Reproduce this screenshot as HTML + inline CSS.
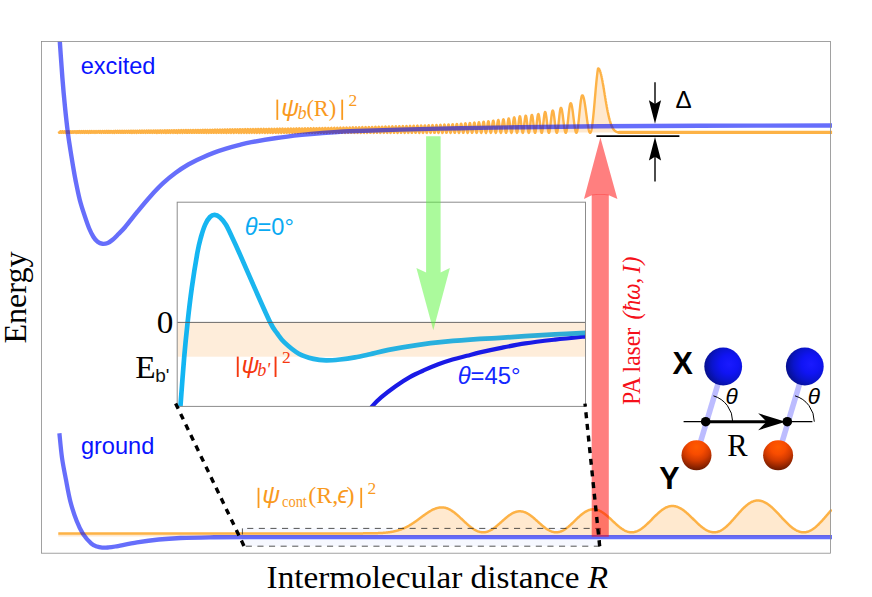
<!DOCTYPE html>
<html><head><meta charset="utf-8"><title>fig</title>
<style>html,body{margin:0;padding:0;background:#fff}svg{display:block}</style></head>
<body>
<svg width="872" height="597" viewBox="0 0 872 597">
<defs>
<clipPath id="cf"><rect x="41.5" y="41.5" width="790.6" height="511.7"/></clipPath>
<clipPath id="cfill"><rect x="41.5" y="41.5" width="789.2" height="511.7"/></clipPath>
<clipPath id="ci"><rect x="177.2" y="202.2" width="408.3" height="204.2"/></clipPath>
<linearGradient id="gcy" gradientUnits="userSpaceOnUse" x1="177" y1="0" x2="586" y2="0">
<stop offset="0" stop-color="#00b0f2"/><stop offset="0.3" stop-color="#0fb0ea"/><stop offset="1" stop-color="#22a6d2"/></linearGradient>
<radialGradient id="gb" cx="0.66" cy="0.44" r="0.82" fx="0.66" fy="0.44">
<stop offset="0" stop-color="#1a1aff"/><stop offset="0.3" stop-color="#1014f4"/><stop offset="0.55" stop-color="#0a14cc"/><stop offset="0.8" stop-color="#061090"/><stop offset="1" stop-color="#030a58"/></radialGradient>
<radialGradient id="go" cx="0.5" cy="0.22" r="0.84" fx="0.5" fy="0.22">
<stop offset="0" stop-color="#ff5a00"/><stop offset="0.3" stop-color="#f84c00"/><stop offset="0.55" stop-color="#d23a00"/><stop offset="0.8" stop-color="#902400"/><stop offset="1" stop-color="#561400"/></radialGradient>
</defs>
<rect width="872" height="597" fill="#fff"/>
<g clip-path="url(#cf)">
<rect x="242.4" y="528.4" width="358" height="17.8" fill="#f6f8ff"/>
<path d="M58.6,131.33 58.8,131.71 59.0,132.22 59.2,132.67 59.4,132.89 59.6,132.81 59.8,132.46 60.0,131.95 60.2,131.48 60.4,131.22 60.6,131.26 60.8,131.58 61.0,132.07 61.2,132.56 61.4,132.86 61.6,132.86 61.8,132.57 62.0,132.09 62.2,131.59 62.4,131.25 62.6,131.20 62.8,131.45 63.0,131.91 63.2,132.42 63.4,132.79 63.6,132.89 63.8,132.69 64.0,132.24 64.2,131.73 64.4,131.32 64.6,131.17 64.8,131.33 65.0,131.75 65.2,132.26 65.4,132.70 65.6,132.90 65.8,132.78 66.0,132.40 66.2,131.88 66.4,131.42 66.6,131.17 66.8,131.23 67.0,131.58 67.2,132.08 67.4,132.57 67.6,132.86 67.8,132.86 68.0,132.55 68.2,132.06 68.4,131.55 68.6,131.21 68.8,131.16 69.0,131.42 69.2,131.89 69.4,132.41 69.6,132.79 69.8,132.90 70.0,132.69 70.2,132.25 70.4,131.72 70.6,131.30 70.8,131.13 71.0,131.28 71.2,131.69 71.4,132.21 71.6,132.67 71.8,132.89 72.0,132.81 72.2,132.44 72.4,131.92 72.6,131.43 72.8,131.15 73.0,131.17 73.2,131.49 73.4,131.99 73.6,132.50 73.8,132.83 74.0,132.88 74.2,132.61 74.4,132.13 74.6,131.61 74.8,131.22 75.0,131.11 75.2,131.31 75.4,131.76 75.6,132.29 75.8,132.72 76.0,132.90 76.2,132.76 76.4,132.35 76.6,131.82 76.8,131.35 77.0,131.10 77.2,131.17 77.4,131.52 77.6,132.04 77.8,132.55 78.0,132.86 78.2,132.86 78.4,132.56 78.6,132.06 78.8,131.54 79.0,131.17 79.2,131.08 79.4,131.32 79.6,131.78 79.8,132.32 80.0,132.74 80.2,132.90 80.4,132.74 80.6,132.31 80.8,131.77 81.0,131.30 81.2,131.07 81.4,131.15 81.6,131.52 81.8,132.05 82.0,132.56 82.2,132.86 82.4,132.86 82.6,132.55 82.8,132.04 83.0,131.51 83.2,131.14 83.4,131.05 83.6,131.29 83.8,131.76 84.0,132.30 84.2,132.73 84.4,132.90 84.6,132.74 84.8,132.32 85.0,131.77 85.2,131.29 85.4,131.04 85.6,131.11 85.8,131.47 86.0,132.01 86.2,132.52 86.4,132.85 86.6,132.87 86.8,132.58 87.0,132.07 87.2,131.53 87.4,131.13 87.6,131.02 87.8,131.23 88.0,131.69 88.2,132.24 88.4,132.69 88.6,132.90 88.8,132.78 89.0,132.37 89.2,131.83 89.4,131.32 89.6,131.03 89.8,131.05 90.0,131.38 90.2,131.90 90.4,132.44 90.6,132.81 90.8,132.89 91.0,132.64 91.2,132.16 91.4,131.60 91.6,131.16 91.8,130.98 92.0,131.13 92.2,131.56 92.4,132.12 92.6,132.61 92.8,132.88 93.0,132.83 93.2,132.47 93.4,131.94 93.6,131.40 93.8,131.04 94.0,130.99 94.2,131.25 94.4,131.75 94.6,132.31 94.8,132.74 95.0,132.90 95.2,132.73 95.4,132.29 95.6,131.73 95.8,131.23 96.0,130.97 96.2,131.03 96.4,131.39 96.6,131.93 96.8,132.47 97.0,132.83 97.2,132.88 97.4,132.61 97.6,132.10 97.8,131.54 98.0,131.10 98.2,130.93 98.4,131.10 98.6,131.54 98.8,132.10 99.0,132.61 99.2,132.88 99.4,132.83 99.6,132.47 99.8,131.92 100.0,131.37 100.2,131.00 100.4,130.93 100.6,131.19 100.8,131.69 101.0,132.26 101.2,132.71 101.4,132.90 101.6,132.75 101.8,132.32 102.0,131.75 102.2,131.23 102.4,130.93 102.6,130.95 102.8,131.29 103.0,131.83 103.2,132.39 103.4,132.79 103.6,132.89 103.8,132.66 104.0,132.18 104.2,131.60 104.4,131.11 104.6,130.89 104.8,130.99 105.0,131.40 105.2,131.96 105.4,132.50 105.6,132.84 105.8,132.87 106.0,132.57 106.2,132.04 106.4,131.46 106.6,131.02 106.8,130.86 107.0,131.04 107.2,131.50 107.4,132.08 107.6,132.60 107.8,132.88 108.0,132.83 108.2,132.47 108.4,131.91 108.6,131.35 108.8,130.95 109.0,130.86 109.2,131.10 109.4,131.59 109.6,132.18 109.8,132.67 110.0,132.89 110.2,132.79 110.4,132.38 110.6,131.80 110.8,131.25 111.0,130.89 111.2,130.86 111.4,131.15 111.6,131.67 111.8,132.26 112.0,132.72 112.2,132.90 112.4,132.74 112.6,132.29 112.8,131.70 113.0,131.16 113.2,130.85 113.4,130.86 113.6,131.20 113.8,131.75 114.0,132.33 114.2,132.76 114.4,132.90 114.6,132.70 114.8,132.22 115.0,131.62 115.2,131.09 115.4,130.81 115.6,130.87 115.8,131.23 116.0,131.80 116.2,132.38 116.4,132.79 116.6,132.89 116.8,132.66 117.0,132.16 117.2,131.55 117.4,131.04 117.6,130.78 117.8,130.87 118.0,131.26 118.2,131.84 118.4,132.42 118.6,132.81 118.8,132.89 119.0,132.63 119.2,132.11 119.4,131.50 119.6,131.00 119.8,130.76 120.0,130.86 120.2,131.28 120.4,131.86 120.6,132.44 120.8,132.82 121.0,132.88 121.2,132.60 121.4,132.08 121.6,131.46 121.8,130.97 122.0,130.74 122.2,130.86 122.4,131.28 122.6,131.87 122.8,132.45 123.0,132.82 123.2,132.88 123.4,132.59 123.6,132.06 123.8,131.44 124.0,130.94 124.2,130.72 124.4,130.84 124.6,131.26 124.8,131.86 125.0,132.44 125.2,132.82 125.4,132.88 125.6,132.60 125.8,132.06 126.0,131.44 126.2,130.93 126.4,130.70 126.6,130.81 126.8,131.23 127.0,131.83 127.2,132.42 127.4,132.81 127.6,132.88 127.8,132.61 128.0,132.08 128.2,131.45 128.4,130.93 128.6,130.68 128.8,130.78 129.0,131.19 129.2,131.79 129.4,132.39 129.6,132.80 129.8,132.89 130.0,132.64 130.2,132.11 130.4,131.48 130.6,130.95 130.8,130.67 131.0,130.74 131.2,131.13 131.4,131.72 131.6,132.33 131.8,132.77 132.0,132.90 132.2,132.67 132.4,132.16 132.6,131.53 132.8,130.97 133.0,130.66 133.2,130.69 133.4,131.06 133.6,131.64 133.8,132.26 134.0,132.73 134.2,132.90 134.4,132.71 134.6,132.23 134.8,131.60 135.0,131.02 135.2,130.66 135.4,130.65 135.6,130.97 135.8,131.54 136.0,132.17 136.2,132.68 136.4,132.90 136.6,132.76 136.8,132.32 137.0,131.69 137.2,131.08 137.4,130.68 137.6,130.60 137.8,130.88 138.0,131.42 138.2,132.06 138.4,132.60 138.6,132.88 138.8,132.81 139.0,132.41 139.2,131.80 139.4,131.17 139.6,130.71 139.8,130.57 140.0,130.78 140.2,131.28 140.4,131.92 140.6,132.50 140.8,132.85 141.0,132.86 141.2,132.52 141.4,131.93 141.6,131.29 141.8,130.77 142.0,130.55 142.2,130.68 142.4,131.13 142.6,131.76 142.8,132.38 143.0,132.80 143.2,132.89 143.4,132.62 143.6,132.08 143.8,131.43 144.0,130.86 144.2,130.55 144.4,130.59 144.6,130.97 144.8,131.57 145.0,132.22 145.2,132.71 145.4,132.90 145.6,132.73 145.8,132.25 146.0,131.60 146.2,130.98 146.4,130.58 146.6,130.52 146.8,130.81 147.0,131.37 147.2,132.03 147.4,132.59 147.6,132.88 147.8,132.82 148.0,132.41 148.2,131.79 148.4,131.14 148.6,130.65 148.8,130.47 149.0,130.66 149.2,131.15 149.4,131.80 149.6,132.42 149.8,132.82 150.0,132.88 150.2,132.58 150.4,132.01 150.6,131.34 150.8,130.77 151.0,130.47 151.2,130.53 151.4,130.93 151.6,131.55 151.8,132.21 152.0,132.71 152.2,132.90 152.4,132.72 152.6,132.23 152.8,131.57 153.0,130.94 153.2,130.52 153.4,130.44 153.6,130.72 153.8,131.28 154.0,131.96 154.2,132.54 154.4,132.87 154.6,132.84 154.8,132.45 155.0,131.83 155.2,131.16 155.4,130.63 155.6,130.40 155.8,130.54 156.0,131.01 156.2,131.66 156.4,132.31 156.6,132.77 156.8,132.90 157.0,132.65 157.2,132.11 157.4,131.43 157.6,130.81 157.8,130.43 158.0,130.41 158.2,130.74 158.4,131.34 158.6,132.02 158.8,132.59 159.0,132.88 159.2,132.81 159.4,132.38 159.6,131.74 159.8,131.06 160.0,130.55 160.2,130.35 160.4,130.52 160.6,131.01 160.8,131.68 161.0,132.34 161.2,132.78 161.4,132.89 161.6,132.63 161.8,132.07 162.0,131.38 162.2,130.75 162.4,130.38 162.6,130.36 162.8,130.70 163.0,131.31 163.2,132.00 163.4,132.58 163.6,132.88 163.8,132.81 164.0,132.39 164.2,131.74 164.4,131.05 164.6,130.51 164.8,130.29 165.0,130.45 165.2,130.93 165.4,131.61 165.6,132.28 165.8,132.76 166.0,132.90 166.2,132.66 166.4,132.11 166.6,131.41 166.8,130.76 167.0,130.35 167.2,130.29 167.4,130.59 167.6,131.19 167.8,131.89 168.0,132.51 168.2,132.86 168.4,132.84 168.6,132.46 168.8,131.83 169.0,131.12 169.2,130.54 169.4,130.25 169.6,130.34 169.8,130.78 170.0,131.44 170.2,132.14 170.4,132.68 170.6,132.90 170.8,132.74 171.0,132.24 171.2,131.55 171.4,130.86 171.6,130.37 171.8,130.21 172.0,130.43 172.2,130.97 172.4,131.68 172.6,132.35 172.8,132.79 173.0,132.89 173.2,132.60 173.4,132.02 173.6,131.30 173.8,130.64 174.0,130.24 174.2,130.21 174.4,130.55 174.6,131.17 174.8,131.89 175.0,132.51 175.2,132.86 175.4,132.84 175.6,132.45 175.8,131.79 176.0,131.07 176.2,130.47 176.4,130.16 176.6,130.24 176.8,130.68 177.0,131.35 177.2,132.07 177.4,132.64 177.6,132.89 177.8,132.76 178.0,132.29 178.2,131.59 178.4,130.87 178.6,130.33 178.8,130.12 179.0,130.29 179.2,130.81 179.4,131.51 179.6,132.22 179.8,132.73 180.0,132.90 180.2,132.68 180.4,132.13 180.6,131.40 180.8,130.70 181.0,130.22 181.2,130.09 181.4,130.35 181.6,130.92 181.8,131.65 182.0,132.34 182.2,132.79 182.4,132.89 182.6,132.59 182.8,131.99 183.0,131.25 183.2,130.57 183.4,130.14 183.6,130.08 183.8,130.40 184.0,131.02 184.2,131.77 184.4,132.43 184.6,132.83 184.8,132.86 185.0,132.51 185.2,131.87 185.4,131.11 185.6,130.46 185.8,130.07 186.0,130.07 186.2,130.45 186.4,131.10 186.6,131.85 186.8,132.50 187.0,132.86 187.2,132.84 187.4,132.44 187.6,131.77 187.8,131.01 188.0,130.37 188.2,130.02 188.4,130.06 188.6,130.48 188.8,131.15 189.0,131.91 189.2,132.54 189.4,132.87 189.6,132.82 189.8,132.39 190.0,131.69 190.2,130.93 190.4,130.30 190.6,129.98 190.8,130.04 191.0,130.48 191.2,131.18 191.4,131.94 191.6,132.56 191.8,132.88 192.0,132.80 192.2,132.35 192.4,131.65 192.6,130.88 192.8,130.25 193.0,129.94 193.2,130.02 193.4,130.47 193.6,131.18 193.8,131.94 194.0,132.57 194.2,132.88 194.4,132.80 194.6,132.34 194.8,131.63 195.0,130.86 195.2,130.22 195.4,129.90 195.6,129.98 195.8,130.43 196.0,131.14 196.2,131.92 196.4,132.55 196.6,132.88 196.8,132.81 197.0,132.36 197.2,131.64 197.4,130.86 197.6,130.21 197.8,129.87 198.0,129.93 198.2,130.37 198.4,131.08 198.6,131.86 198.8,132.52 199.0,132.87 199.2,132.82 199.4,132.39 199.6,131.69 199.8,130.90 200.0,130.23 200.2,129.85 200.4,129.88 200.6,130.29 200.8,130.98 201.0,131.77 201.2,132.46 201.4,132.85 201.6,132.85 201.8,132.45 202.0,131.76 202.2,130.96 202.4,130.26 202.6,129.84 202.8,129.81 203.0,130.18 203.2,130.85 203.4,131.65 203.6,132.37 203.8,132.81 204.0,132.87 204.2,132.53 204.4,131.87 204.6,131.07 204.8,130.33 205.0,129.85 205.2,129.75 205.4,130.06 205.6,130.70 205.8,131.49 206.0,132.24 206.2,132.76 206.4,132.89 206.6,132.62 206.8,132.01 207.0,131.21 207.2,130.43 207.4,129.88 207.6,129.70 207.8,129.93 208.0,130.51 208.2,131.30 208.4,132.08 208.6,132.67 208.8,132.90 209.0,132.72 209.2,132.16 209.4,131.39 209.6,130.58 209.8,129.95 210.0,129.66 210.2,129.79 210.4,130.30 210.6,131.06 210.8,131.87 211.0,132.54 211.2,132.88 211.4,132.81 211.6,132.34 211.8,131.60 212.0,130.77 212.2,130.07 212.4,129.67 212.6,129.67 212.8,130.08 213.0,130.79 213.2,131.62 213.4,132.35 213.6,132.81 213.8,132.87 214.0,132.52 214.2,131.84 214.4,131.01 214.6,130.24 214.8,129.72 215.0,129.58 215.2,129.86 215.4,130.49 215.6,131.31 215.8,132.11 216.0,132.69 216.2,132.90 216.4,132.69 216.6,132.11 216.8,131.30 217.0,130.47 217.2,129.83 217.4,129.54 217.6,129.67 217.8,130.18 218.0,130.96 218.2,131.80 218.4,132.49 218.6,132.87 218.8,132.82 219.0,132.37 219.2,131.63 219.4,130.78 219.6,130.03 219.8,129.57 220.0,129.52 220.2,129.88 220.4,130.58 220.6,131.42 220.8,132.21 221.0,132.75 221.2,132.89 221.4,132.62 221.6,131.98 221.8,131.14 222.0,130.31 222.2,129.69 222.4,129.44 222.6,129.62 222.8,130.18 223.0,130.99 223.2,131.84 223.4,132.53 223.6,132.88 223.8,132.80 224.0,132.32 224.2,131.55 224.4,130.69 224.6,129.93 224.8,129.47 225.0,129.43 225.2,129.81 225.4,130.52 225.6,131.38 225.8,132.19 226.0,132.74 226.2,132.90 226.4,132.62 226.6,131.98 226.8,131.14 227.0,130.28 227.2,129.64 227.4,129.36 227.6,129.51 227.8,130.05 228.0,130.86 228.2,131.73 228.4,132.46 228.6,132.86 228.8,132.83 229.0,132.39 229.2,131.63 229.4,130.75 229.6,129.95 229.8,129.43 230.0,129.31 230.2,129.63 230.4,130.31 230.6,131.17 230.8,132.02 231.0,132.65 231.2,132.90 231.4,132.71 231.6,132.13 231.8,131.30 232.0,130.41 232.2,129.68 232.4,129.29 232.6,129.33 232.8,129.79 233.0,130.56 233.2,131.45 233.4,132.26 233.6,132.78 233.8,132.89 234.0,132.56 234.2,131.87 234.4,130.99 234.6,130.12 234.8,129.47 235.0,129.20 235.2,129.38 235.4,129.95 235.6,130.79 235.8,131.69 236.0,132.43 236.2,132.85 236.4,132.84 236.6,132.39 236.8,131.63 237.0,130.72 237.2,129.88 237.4,129.31 237.6,129.16 237.8,129.44 238.0,130.10 238.2,130.98 238.4,131.87 238.6,132.56 238.8,132.89 239.0,132.77 239.2,132.24 239.4,131.41 239.6,130.49 239.8,129.69 240.0,129.19 240.2,129.13 240.4,129.50 240.6,130.23 240.8,131.14 241.0,132.01 241.2,132.65 241.4,132.90 241.6,132.70 241.8,132.10 242.0,131.24 242.2,130.32 242.4,129.56 242.6,129.12 242.8,129.13 243.0,129.57 243.2,130.34 243.4,131.25 243.6,132.11 243.8,132.71 244.0,132.90 244.2,132.64 244.4,132.00 244.6,131.12 244.8,130.20 245.0,129.46 245.2,129.08 245.4,129.13 245.6,129.61 245.8,130.40 246.0,131.33 246.2,132.17 246.4,132.74 246.6,132.90 246.8,132.61 247.0,131.94 247.2,131.04 247.4,130.13 247.6,129.40 247.8,129.04 248.0,129.11 248.2,129.61 248.4,130.42 248.6,131.35 248.8,132.19 249.0,132.75 249.2,132.89 249.4,132.59 249.6,131.92 249.8,131.02 250.0,130.10 250.2,129.37 250.4,129.01 250.6,129.08 250.8,129.58 251.0,130.39 251.2,131.32 251.4,132.17 251.6,132.74 251.8,132.89 252.0,132.61 252.2,131.94 252.4,131.04 252.6,130.11 252.8,129.37 253.0,128.99 253.2,129.04 253.4,129.52 253.6,130.31 253.8,131.25 254.0,132.11 254.2,132.71 254.4,132.90 254.6,132.64 254.8,132.00 255.0,131.11 255.2,130.18 255.4,129.41 255.6,128.98 255.8,128.98 256.0,129.42 256.2,130.19 256.4,131.12 256.6,132.01 256.8,132.65 257.0,132.90 257.2,132.70 257.4,132.10 257.6,131.24 257.8,130.29 258.0,129.48 258.2,128.99 258.4,128.92 258.6,129.29 258.8,130.02 259.0,130.94 259.2,131.85 259.4,132.55 259.6,132.89 259.8,132.77 260.0,132.24 260.2,131.41 260.4,130.46 260.6,129.60 260.8,129.03 261.0,128.86 261.2,129.14 261.4,129.81 261.6,130.70 261.8,131.64 262.0,132.41 262.2,132.84 262.4,132.84 262.6,132.41 262.8,131.63 263.0,130.69 263.2,129.78 263.4,129.11 263.6,128.83 263.8,128.99 264.0,129.56 264.2,130.42 264.4,131.37 264.6,132.21 264.8,132.76 265.0,132.89 265.2,132.58 265.4,131.89 265.6,130.98 265.8,130.03 266.0,129.26 266.2,128.84 266.4,128.86 266.6,129.30 266.8,130.08 267.0,131.03 267.2,131.93 267.4,132.60 267.6,132.89 267.8,132.74 268.0,132.17 268.2,131.32 268.4,130.35 268.6,129.49 268.8,128.92 269.0,128.76 269.2,129.05 269.4,129.71 269.6,130.62 269.8,131.57 270.0,132.36 270.2,132.83 270.4,132.86 270.6,132.45 270.8,131.70 271.0,130.75 271.2,129.82 271.4,129.10 271.6,128.74 271.8,128.83 272.0,129.34 272.2,130.16 272.4,131.12 272.6,132.02 272.8,132.65 273.0,132.90 273.2,132.70 273.4,132.10 273.6,131.21 273.8,130.25 274.0,129.39 274.2,128.84 274.4,128.69 274.6,129.00 274.8,129.68 275.0,130.60 275.2,131.55 275.4,132.35 275.6,132.82 275.8,132.86 276.0,132.46 276.2,131.71 276.4,130.76 276.6,129.82 276.8,129.07 277.0,128.68 277.2,128.74 277.4,129.22 277.6,130.02 277.8,130.98 278.0,131.90 278.2,132.59 278.4,132.89 278.6,132.75 278.8,132.20 279.0,131.34 279.2,130.37 279.4,129.47 279.6,128.84 279.8,128.61 280.0,128.83 280.2,129.44 280.4,130.33 280.6,131.31 280.8,132.17 281.0,132.74 281.2,132.90 281.4,132.61 281.6,131.94 281.8,131.02 282.0,130.04 282.2,129.21 282.4,128.69 282.6,128.59 282.8,128.94 283.0,129.66 283.2,130.59 283.4,131.56 283.6,132.36 283.8,132.82 284.0,132.86 284.2,132.46 284.4,131.70 284.6,130.74 284.8,129.78 285.0,129.01 285.2,128.59 285.4,128.60 285.6,129.04 285.8,129.83 286.0,130.79 286.2,131.75 286.4,132.49 286.6,132.87 286.8,132.81 287.0,132.33 287.2,131.51 287.4,130.53 287.6,129.59 287.8,128.87 288.0,128.52 288.2,128.61 288.4,129.12 288.6,129.95 288.8,130.93 289.0,131.87 289.2,132.57 289.4,132.89 289.6,132.77 289.8,132.23 290.0,131.38 290.2,130.39 290.4,129.46 290.6,128.77 290.8,128.46 291.0,128.60 291.2,129.16 291.4,130.01 291.6,131.00 291.8,131.93 292.0,132.60 292.2,132.89 292.4,132.74 292.6,132.18 292.8,131.31 293.0,130.31 293.2,129.38 293.4,128.71 293.6,128.42 293.8,128.58 294.0,129.14 294.2,130.01 294.4,131.00 294.6,131.93 294.8,132.60 295.0,132.89 295.2,132.74 295.4,132.17 295.6,131.30 295.8,130.30 296.0,129.37 296.2,128.68 296.4,128.38 296.6,128.52 296.8,129.08 297.0,129.94 297.2,130.94 297.4,131.87 297.6,132.57 297.8,132.89 298.0,132.76 298.2,132.22 298.4,131.37 298.6,130.36 298.8,129.41 299.0,128.69 299.2,128.35 299.4,128.44 299.6,128.96 299.8,129.80 300.0,130.79 300.2,131.76 300.4,132.50 300.6,132.87 300.8,132.81 301.0,132.32 301.2,131.50 301.4,130.50 301.6,129.52 301.8,128.75 302.0,128.33 302.2,128.35 302.4,128.80 302.6,129.59 302.8,130.58 303.0,131.56 303.2,132.37 303.4,132.83 303.6,132.86 303.8,132.45 304.0,131.69 304.2,130.71 304.4,129.71 304.6,128.86 304.8,128.35 305.0,128.26 305.2,128.61 305.4,129.33 305.6,130.28 305.8,131.29 306.0,132.17 306.2,132.74 306.4,132.90 306.6,132.61 306.8,131.94 307.0,131.00 307.2,129.98 307.4,129.06 307.6,128.43 307.8,128.19 308.0,128.40 308.2,129.01 308.4,129.91 308.6,130.93 308.8,131.88 309.0,132.57 309.2,132.89 309.4,132.76 309.6,132.22 309.8,131.36 310.0,130.34 310.2,129.35 310.4,128.59 310.6,128.18 310.8,128.22 311.0,128.68 311.2,129.48 311.4,130.48 311.6,131.48 311.8,132.31 312.0,132.80 312.2,132.87 312.4,132.51 312.6,131.77 312.8,130.79 313.0,129.76 313.2,128.87 313.4,128.28 313.6,128.10 313.8,128.36 314.0,129.01 314.2,129.94 314.4,130.97 314.6,131.91 314.8,132.60 315.0,132.89 315.2,132.75 315.4,132.19 315.6,131.31 315.8,130.29 316.0,129.29 316.2,128.51 316.4,128.09 316.6,128.11 316.8,128.55 317.0,129.35 317.2,130.34 317.4,131.37 317.6,132.23 317.8,132.77 318.0,132.89 318.2,132.57 318.4,131.87 318.6,130.91 318.8,129.86 319.0,128.92 319.2,128.26 319.4,127.99 319.6,128.17 319.8,128.75 320.0,129.64 320.2,130.67 320.4,131.66 320.6,132.44 320.8,132.85 321.0,132.83 321.2,132.38 321.4,131.58 321.6,130.57 321.8,129.53 322.0,128.65 322.2,128.09 322.4,127.94 322.6,128.24 322.8,128.92 323.0,129.87 323.2,130.91 323.4,131.87 323.6,132.57 323.8,132.89 324.0,132.77 324.2,132.22 324.4,131.36 324.6,130.32 324.8,129.30 325.0,128.46 325.2,127.97 325.4,127.91 325.6,128.28 325.8,129.03 326.0,130.01 326.2,131.06 326.4,131.99 326.6,132.64 326.8,132.90 327.0,132.71 327.2,132.11 327.4,131.21 327.6,130.16 327.8,129.14 328.0,128.34 328.2,127.89 328.4,127.87 328.6,128.29 328.8,129.06 329.0,130.06 329.2,131.12 329.4,132.04 329.6,132.67 329.8,132.90 330.0,132.69 330.2,132.07 330.4,131.15 330.6,130.09 330.8,129.07 331.0,128.27 331.2,127.83 331.4,127.82 331.6,128.24 331.8,129.02 332.0,130.02 332.2,131.08 332.4,132.01 332.6,132.66 332.8,132.90 333.0,132.70 333.2,132.09 333.4,131.18 333.6,130.12 333.8,129.09 334.0,128.26 334.2,127.79 334.4,127.74 334.6,128.13 334.8,128.89 335.0,129.88 335.2,130.95 335.4,131.91 335.6,132.60 335.8,132.89 336.0,132.75 336.2,132.19 336.4,131.31 336.6,130.25 336.8,129.19 337.0,128.32 337.2,127.78 337.4,127.66 337.6,127.97 337.8,128.68 338.0,129.64 338.2,130.72 338.4,131.72 338.6,132.48 338.8,132.86 339.0,132.82 339.2,132.34 339.4,131.52 339.6,130.48 339.8,129.40 340.0,128.47 340.2,127.82 340.4,127.58 340.6,127.78 340.8,128.39 341.0,129.30 341.2,130.37 341.4,131.42 341.6,132.27 341.8,132.79 342.0,132.88 342.2,132.54 342.4,131.81 342.6,130.82 342.8,129.73 343.0,128.72 343.2,127.95 343.4,127.55 343.6,127.60 343.8,128.06 344.0,128.88 344.2,129.91 344.4,131.00 344.6,131.95 344.8,132.62 345.0,132.90 345.2,132.73 345.4,132.15 345.6,131.25 345.8,130.18 346.0,129.10 346.2,128.20 346.4,127.62 346.6,127.45 346.8,127.73 347.0,128.39 347.2,129.35 347.4,130.44 347.6,131.48 347.8,132.32 348.0,132.81 348.2,132.87 348.4,132.50 348.6,131.75 348.8,130.74 349.0,129.64 349.2,128.62 349.4,127.83 349.6,127.42 349.8,127.45 350.0,127.90 350.2,128.71 350.4,129.74 350.6,130.84 350.8,131.83 351.0,132.55 351.2,132.88 351.4,132.78 351.6,132.26 351.8,131.39 352.0,130.33 352.2,129.22 352.4,128.26 352.6,127.58 352.8,127.31 353.0,127.48 353.2,128.06 353.4,128.96 353.6,130.03 353.8,131.12 354.0,132.06 354.2,132.68 354.4,132.90 354.6,132.68 354.8,132.05 355.0,131.12 355.2,130.02 355.4,128.92 355.6,128.01 355.8,127.42 356.0,127.24 356.2,127.50 356.4,128.15 356.6,129.11 356.8,130.21 357.0,131.29 357.2,132.18 357.4,132.74 357.6,132.89 357.8,132.61 358.0,131.92 358.2,130.95 358.4,129.83 358.6,128.74 358.8,127.85 359.0,127.30 359.2,127.17 359.4,127.47 359.6,128.16 359.8,129.14 360.0,130.25 360.2,131.33 360.4,132.21 360.6,132.76 360.8,132.89 361.0,132.58 361.2,131.88 361.4,130.89 361.6,129.77 361.8,128.68 362.0,127.78 362.2,127.22 362.4,127.09 362.6,127.38 362.8,128.07 363.0,129.05 363.2,130.17 363.4,131.26 363.6,132.16 363.8,132.74 364.0,132.90 364.2,132.62 364.4,131.94 364.6,130.97 364.8,129.84 365.0,128.73 365.2,127.80 365.4,127.19 365.6,127.00 365.8,127.24 366.0,127.88 366.2,128.83 366.4,129.95 366.6,131.06 366.8,132.01 367.0,132.66 367.2,132.90 367.4,132.70 367.6,132.10 367.8,131.17 368.0,130.05 368.2,128.92 368.4,127.92 368.6,127.22 368.8,126.92 369.0,127.05 369.2,127.60 369.4,128.49 369.6,129.58 369.8,130.72 370.0,131.74 370.2,132.49 370.4,132.87 370.6,132.81 370.8,132.33 371.0,131.49 371.2,130.41 371.4,129.25 371.6,128.18 371.8,127.36 372.0,126.90 372.2,126.86 372.4,127.26 372.6,128.04 372.8,129.07 373.0,130.22 373.2,131.32 373.4,132.20 373.6,132.76 373.8,132.89 374.0,132.59 374.2,131.89 374.4,130.90 374.6,129.75 374.8,128.61 375.0,127.64 375.2,126.99 375.4,126.73 375.6,126.92 375.8,127.51 376.0,128.43 376.2,129.55 376.4,130.70 376.6,131.73 376.8,132.49 377.0,132.87 377.2,132.81 377.4,132.33 377.6,131.49 377.8,130.41 378.0,129.24 378.2,128.14 378.4,127.27 378.6,126.75 378.8,126.66 379.0,126.99 379.2,127.72 379.4,128.73 379.6,129.88 379.8,131.02 380.0,131.99 380.2,132.64 380.4,132.90 380.6,132.72 380.8,132.12 381.0,131.19 381.2,130.07 381.4,128.89 381.6,127.83 381.8,127.03 382.0,126.60 382.2,126.61 382.4,127.04 382.6,127.84 382.8,128.90 383.0,130.07 383.2,131.19 383.4,132.12 383.6,132.71 383.8,132.90 384.0,132.65 384.2,132.00 384.4,131.03 384.6,129.88 384.8,128.71 385.0,127.66 385.2,126.89 385.4,126.50 385.6,126.55 385.8,127.01 386.0,127.84 386.2,128.91 386.4,130.09 386.6,131.21 386.8,132.13 387.0,132.72 387.2,132.90 387.4,132.65 387.6,131.99 387.8,131.02 388.0,129.87 388.2,128.69 388.4,127.63 388.6,126.84 388.8,126.43 389.0,126.45 389.2,126.89 389.4,127.69 389.6,128.75 389.8,129.93 390.0,131.07 390.2,132.02 390.4,132.66 390.6,132.90 390.8,132.71 391.0,132.11 391.2,131.18 391.4,130.04 391.6,128.84 391.8,127.75 392.0,126.89 392.2,126.39 392.4,126.32 392.6,126.67 392.8,127.40 393.0,128.41 393.2,129.58 393.4,130.75 393.6,131.78 393.8,132.51 394.0,132.87 394.2,132.81 394.4,132.32 394.6,131.48 394.8,130.39 395.0,129.19 395.2,128.03 395.4,127.08 395.6,126.44 395.8,126.20 396.0,126.40 396.2,127.00 396.4,127.92 396.6,129.05 396.8,130.24 397.0,131.35 397.2,132.23 397.4,132.76 397.6,132.89 397.8,132.59 398.0,131.90 398.2,130.90 398.4,129.73 398.6,128.53 398.8,127.45 399.0,126.63 399.2,126.18 399.4,126.15 399.6,126.54 399.8,127.30 400.0,128.33 400.2,129.51 400.4,130.69 400.6,131.73 400.8,132.48 401.0,132.86 401.2,132.82 401.4,132.37 401.6,131.55 401.8,130.47 402.0,129.26 402.2,128.08 402.4,127.07 402.6,126.35 402.8,126.03 403.0,126.12 403.2,126.63 403.4,127.48 403.6,128.57 403.8,129.78 404.0,130.94 404.2,131.92 404.4,132.60 404.6,132.89 404.8,132.76 405.0,132.22 405.2,131.34 405.4,130.22 405.6,129.00 405.8,127.83 406.0,126.85 406.2,126.18 406.4,125.91 406.6,126.06 406.8,126.61 407.0,127.50 407.2,128.62 407.4,129.83 407.6,130.99 407.8,131.96 408.0,132.62 408.2,132.89 408.4,132.75 408.6,132.20 408.8,131.30 409.0,130.18 409.2,128.95 409.4,127.77 409.6,126.78 409.8,126.10 410.0,125.81 410.2,125.93 410.4,126.46 410.6,127.33 410.8,128.44 411.0,129.65 411.2,130.83 411.4,131.84 411.6,132.55 411.8,132.88 412.0,132.80 412.2,132.30 412.4,131.46 412.6,130.36 412.8,129.13 413.0,127.93 413.2,126.88 413.4,126.12 413.6,125.72 413.8,125.75 414.0,126.19 414.2,126.98 414.4,128.04 414.6,129.24 414.8,130.45 415.0,131.53 415.2,132.35 415.4,132.81 415.6,132.87 415.8,132.51 416.0,131.78 416.2,130.75 416.4,129.55 416.6,128.32 416.8,127.18 417.0,126.28 417.2,125.73 417.4,125.57 417.6,125.83 417.8,126.47 418.0,127.43 418.2,128.58 418.4,129.82 418.6,130.98 418.8,131.95 419.0,132.61 419.2,132.89 419.4,132.76 419.6,132.22 419.8,131.34 420.0,130.22 420.2,128.98 420.4,127.76 420.6,126.70 420.8,125.91 421.0,125.50 421.2,125.49 421.4,125.89 421.6,126.66 421.8,127.70 422.0,128.90 422.2,130.13 422.4,131.26 422.6,132.16 422.8,132.73 423.0,132.90 423.2,132.66 423.4,132.03 423.6,131.08 423.8,129.91 424.0,128.66 424.2,127.45 424.4,126.43 424.6,125.69 424.8,125.34 425.0,125.39 425.2,125.85 425.4,126.66 425.6,127.73 425.8,128.95 426.0,130.19 426.2,131.31 426.4,132.19 426.6,132.74 426.8,132.90 427.0,132.64 427.2,132.00 427.4,131.04 427.6,129.87 427.8,128.61 428.0,127.39 428.2,126.35 428.4,125.60 428.6,125.21 428.8,125.24 429.0,125.66 429.2,126.44 429.4,127.50 429.6,128.71 429.8,129.96 430.0,131.12 430.2,132.05 430.4,132.67 430.6,132.90 430.8,132.72 431.0,132.15 431.2,131.25 431.4,130.11 431.6,128.85 431.8,127.60 432.0,126.49 432.2,125.64 432.4,125.14 432.6,125.04 432.8,125.35 433.0,126.02 433.2,127.00 433.4,128.18 433.6,129.44 433.8,130.65 434.0,131.69 434.2,132.45 434.4,132.85 434.6,132.85 434.8,132.44 435.0,131.68 435.2,130.63 435.4,129.40 435.6,128.12 435.8,126.92 436.0,125.91 436.2,125.22 436.4,124.89 436.6,124.98 436.8,125.45 437.0,126.27 437.2,127.35 437.4,128.58 437.6,129.85 437.8,131.02 438.0,131.98 438.2,132.62 438.4,132.89 438.6,132.76 438.8,132.24 439.0,131.37 439.2,130.25 439.4,128.99 439.6,127.71 439.8,126.53 440.0,125.59 440.2,124.96 440.4,124.72 440.6,124.88 440.8,125.42 441.0,126.29 441.2,127.41 441.4,128.66 441.6,129.93 441.8,131.09 442.0,132.03 442.2,132.65 442.4,132.90 442.6,132.74 442.8,132.20 443.0,131.32 443.2,130.19 443.4,128.92 443.6,127.62 443.8,126.44 444.0,125.47 444.2,124.82 444.4,124.55 444.6,124.68 444.8,125.19 445.0,126.04 445.2,127.14 445.4,128.39 445.6,129.67 445.8,130.87 446.0,131.86 446.2,132.55 446.4,132.88 446.6,132.81 446.8,132.35 447.0,131.54 447.2,130.46 447.4,129.20 447.6,127.89 447.8,126.65 448.0,125.60 448.2,124.83 448.4,124.42 448.6,124.40 448.8,124.78 449.0,125.51 449.2,126.53 449.4,127.74 449.6,129.03 449.8,130.29 450.0,131.39 450.2,132.24 450.4,132.76 450.6,132.89 450.8,132.63 451.0,132.00 451.2,131.04 451.4,129.86 451.6,128.56 451.8,127.25 452.0,126.06 452.2,125.10 452.4,124.45 452.6,124.17 452.8,124.29 453.0,124.79 453.2,125.63 453.4,126.72 453.6,127.97 453.8,129.28 454.0,130.52 454.2,131.58 454.4,132.37 454.6,132.82 454.8,132.88 455.0,132.54 455.2,131.85 455.4,130.85 455.6,129.63 455.8,128.30 456.0,126.98 456.2,125.79 456.4,124.83 456.6,124.19 456.8,123.92 457.0,124.05 457.2,124.55 457.4,125.39 457.6,126.49 457.8,127.75 458.0,129.08 458.2,130.34 458.4,131.44 458.6,132.28 458.8,132.78 459.0,132.89 459.2,132.61 459.4,131.96 459.6,131.00 459.8,129.80 460.0,128.46 460.2,127.11 460.4,125.86 460.6,124.81 460.8,124.05 461.0,123.66 461.2,123.67 461.4,124.06 461.6,124.80 461.8,125.83 462.0,127.06 462.2,128.40 462.4,129.72 462.6,130.93 462.8,131.91 463.0,132.58 463.2,132.88 463.4,132.80 463.6,132.33 463.8,131.50 464.0,130.40 464.2,129.10 464.4,127.72 464.6,126.37 464.8,125.17 465.0,124.20 465.2,123.56 465.4,123.30 465.6,123.43 465.8,123.94 466.0,124.79 466.2,125.90 466.4,127.20 466.6,128.56 466.8,129.89 467.0,131.08 467.2,132.02 467.4,132.64 467.6,132.90 467.8,132.75 468.0,132.23 468.2,131.36 468.4,130.22 468.6,128.89 468.8,127.48 469.0,126.11 469.2,124.88 469.4,123.90 469.6,123.24 469.8,122.96 470.0,123.07 470.2,123.56 470.4,124.39 470.6,125.50 470.8,126.79 471.0,128.18 471.2,129.55 471.4,130.79 471.6,131.81 471.8,132.52 472.0,132.87 472.2,132.83 472.4,132.40 472.6,131.61 472.8,130.52 473.0,129.22 473.2,127.80 473.4,126.38 473.6,125.06 473.8,123.94 474.0,123.12 474.2,122.66 474.4,122.59 474.6,122.91 474.8,123.59 475.0,124.58 475.2,125.81 475.4,127.18 475.6,128.60 475.8,129.95 476.0,131.14 476.2,132.07 476.4,132.67 476.6,132.90 476.8,132.73 477.0,132.18 477.2,131.29 477.4,130.11 477.6,128.75 477.8,127.29 478.0,125.85 478.2,124.53 478.4,123.43 478.6,122.64 478.8,122.21 479.0,122.18 479.2,122.54 479.4,123.25 479.6,124.27 479.8,125.53 480.0,126.93 480.2,128.38 480.4,129.76 480.6,130.99 480.8,131.96 481.0,132.61 481.2,132.89 481.4,132.78 481.6,132.28 481.8,131.42 482.0,130.28 482.2,128.92 482.4,127.44 482.6,125.95 482.8,124.56 483.0,123.36 483.2,122.44 483.4,121.87 483.6,121.69 483.8,121.90 484.0,122.48 484.2,123.39 484.4,124.58 484.6,125.95 484.8,127.42 485.0,128.88 485.2,130.23 485.4,131.38 485.6,132.24 485.8,132.76 486.0,132.90 486.2,132.64 486.4,132.00 486.6,131.03 486.8,129.78 487.0,128.35 487.2,126.82 487.4,125.31 487.6,123.92 487.8,122.74 488.0,121.85 488.2,121.32 488.4,121.18 488.6,121.43 488.8,122.05 489.0,123.00 489.2,124.21 489.4,125.62 489.6,127.11 489.8,128.61 490.0,130.00 490.2,131.20 490.4,132.12 490.6,132.70 490.8,132.90 491.0,132.71 491.2,132.13 491.4,131.21 491.6,130.00 491.8,128.57 492.0,127.03 492.2,125.46 492.4,123.98 492.6,122.68 492.8,121.64 493.0,120.94 493.2,120.62 493.4,120.69 493.6,121.15 493.8,121.95 494.0,123.06 494.2,124.40 494.4,125.89 494.6,127.44 494.8,128.94 495.0,130.30 495.2,131.45 495.4,132.29 495.6,132.78 495.8,132.89 496.0,132.60 496.2,131.94 496.4,130.93 496.6,129.65 496.8,128.17 497.0,126.57 497.2,124.97 497.4,123.46 497.6,122.13 497.8,121.06 498.0,120.33 498.2,119.98 498.4,120.03 498.6,120.46 498.8,121.24 499.0,122.33 499.2,123.67 499.4,125.17 499.6,126.75 499.8,128.31 500.0,129.76 500.2,131.01 500.4,131.99 500.6,132.63 500.8,132.89 501.0,132.77 501.2,132.25 501.4,131.37 501.6,130.18 501.8,128.75 502.0,127.16 502.2,125.51 502.4,123.89 502.6,122.39 502.8,121.10 503.0,120.11 503.2,119.47 503.4,119.22 503.6,119.37 503.8,119.89 504.0,120.75 504.2,121.92 504.4,123.32 504.6,124.87 504.8,126.50 505.0,128.10 505.2,129.58 505.4,130.87 505.6,131.89 505.8,132.57 506.0,132.88 506.2,132.80 506.4,132.33 506.6,131.49 506.8,130.33 507.0,128.91 507.2,127.30 507.4,125.61 507.6,123.91 507.8,122.31 508.0,120.89 508.2,119.73 508.4,118.91 508.6,118.45 508.8,118.40 509.0,118.73 509.2,119.43 509.4,120.45 509.6,121.75 509.8,123.26 510.0,124.89 510.2,126.56 510.4,128.19 510.6,129.68 510.8,130.96 511.0,131.96 511.2,132.61 511.4,132.89 511.6,132.78 511.8,132.27 512.0,131.40 512.2,130.21 512.4,128.75 512.6,127.11 512.8,125.36 513.0,123.60 513.2,121.92 513.4,120.40 513.6,119.13 513.8,118.18 514.0,117.59 514.2,117.39 514.4,117.59 514.6,118.16 514.8,119.07 515.0,120.28 515.2,121.74 515.4,123.37 515.6,125.08 515.8,126.80 516.0,128.44 516.2,129.92 516.4,131.16 516.6,132.10 516.8,132.69 517.0,132.90 517.2,132.72 517.4,132.14 517.6,131.21 517.8,129.95 518.0,128.44 518.2,126.73 518.4,124.92 518.6,123.09 518.8,121.33 519.0,119.73 519.2,118.36 519.4,117.29 519.6,116.57 519.8,116.25 520.0,116.33 520.2,116.80 520.4,117.63 520.6,118.77 520.8,120.18 521.0,121.79 521.2,123.53 521.4,125.31 521.6,127.06 521.8,128.70 522.0,130.15 522.2,131.34 522.4,132.22 522.6,132.75 522.8,132.90 523.0,132.66 523.2,132.05 523.4,131.08 523.6,129.81 523.8,128.29 524.0,126.58 524.2,124.77 524.4,122.93 524.6,121.15 524.8,119.51 525.0,118.09 525.2,116.94 525.4,116.12 525.6,115.68 525.8,115.62 526.0,115.93 526.2,116.58 526.4,117.56 526.6,118.81 526.8,120.30 527.0,121.95 527.2,123.70 527.4,125.47 527.6,127.20 527.8,128.79 528.0,130.20 528.2,131.36 528.4,132.22 528.6,132.74 528.8,132.90 529.0,132.69 529.2,132.12 529.4,131.21 529.6,130.00 529.8,128.53 530.0,126.87 530.2,125.09 530.4,123.26 530.6,121.45 530.8,119.74 531.0,118.20 531.2,116.90 531.4,115.89 531.6,115.21 531.8,114.89 532.0,114.94 532.2,115.33 532.4,116.05 532.6,117.06 532.8,118.33 533.0,119.82 533.2,121.46 533.4,123.19 533.6,124.96 533.8,126.68 534.0,128.29 534.2,129.74 534.4,130.97 534.6,131.92 534.8,132.56 535.0,132.87 535.2,132.83 535.4,132.45 535.6,131.73 535.8,130.69 536.0,129.39 536.2,127.87 536.4,126.17 536.6,124.38 536.8,122.55 537.0,120.75 537.2,119.05 537.4,117.52 537.6,116.21 537.8,115.17 538.0,114.44 538.2,114.06 538.4,114.01 538.6,114.28 538.8,114.86 539.0,115.74 539.2,116.88 539.4,118.25 539.6,119.79 539.8,121.47 540.0,123.22 540.2,124.97 540.4,126.68 540.6,128.27 540.8,129.70 541.0,130.91 541.2,131.87 541.4,132.52 541.6,132.86 541.8,132.86 542.0,132.52 542.2,131.85 542.4,130.87 542.6,129.61 542.8,128.12 543.0,126.43 543.2,124.61 543.4,122.71 543.6,120.80 543.8,118.94 544.0,117.20 544.2,115.63 544.4,114.29 544.6,113.22 544.8,112.46 545.0,112.04 545.2,112.00 545.4,112.25 545.6,112.78 545.8,113.57 546.0,114.61 546.2,115.86 546.4,117.29 546.6,118.87 546.8,120.54 547.0,122.27 547.2,124.00 547.4,125.70 547.6,127.30 547.8,128.77 548.0,130.07 548.2,131.15 548.4,131.99 548.6,132.57 548.8,132.86 549.0,132.86 549.2,132.57 549.4,131.99 549.6,131.13 549.8,130.02 550.0,128.69 550.2,127.17 550.4,125.50 550.6,123.73 550.8,121.90 551.0,120.07 551.2,118.27 551.4,116.57 551.6,115.01 551.8,113.63 552.0,112.46 552.2,111.55 552.4,110.91 552.6,110.56 552.8,110.51 553.0,110.71 553.2,111.18 553.4,111.89 553.6,112.83 553.8,113.99 554.0,115.33 554.2,116.82 554.4,118.42 554.6,120.11 554.8,121.84 555.0,123.56 555.2,125.25 555.4,126.85 555.6,128.32 555.8,129.64 556.0,130.77 556.2,131.68 556.4,132.35 556.6,132.76 556.8,132.90 557.0,132.76 557.2,132.35 557.4,131.66 557.6,130.73 557.8,129.55 558.0,128.17 558.2,126.61 558.4,124.91 558.6,123.10 558.8,121.22 559.0,119.33 559.2,117.45 559.4,115.64 559.6,113.94 559.8,112.39 560.0,111.01 560.2,109.86 560.4,108.95 560.6,108.30 560.8,107.94 561.0,107.85 561.2,107.98 561.4,108.32 561.6,108.87 561.8,109.60 562.0,110.52 562.2,111.61 562.4,112.85 562.6,114.22 562.8,115.69 563.0,117.25 563.2,118.86 563.4,120.50 563.6,122.14 563.8,123.76 564.0,125.31 564.2,126.79 564.4,128.15 564.6,129.38 564.8,130.45 565.0,131.35 565.2,132.06 565.4,132.56 565.6,132.84 565.8,132.89 566.0,132.72 566.2,132.32 566.4,131.70 566.6,130.87 566.8,129.83 567.0,128.60 567.2,127.20 567.4,125.65 567.6,123.98 567.8,122.22 568.0,120.38 568.2,118.50 568.4,116.61 568.6,114.74 568.8,112.92 569.0,111.18 569.2,109.55 569.4,108.06 569.6,106.73 569.8,105.59 570.0,104.65 570.2,103.93 570.4,103.44 570.6,103.20 570.8,103.19 571.0,103.36 571.2,103.70 571.4,104.22 571.6,104.90 571.8,105.74 572.0,106.73 572.2,107.86 572.4,109.11 572.6,110.47 572.8,111.93 573.0,113.46 573.2,115.05 573.4,116.68 573.6,118.33 573.8,119.98 574.0,121.60 574.2,123.19 574.4,124.71 574.6,126.16 574.8,127.50 575.0,128.73 575.2,129.82 575.4,130.77 575.6,131.56 575.8,132.17 576.0,132.60 576.2,132.84 576.4,132.89 576.6,132.75 576.8,132.40 577.0,131.86 577.2,131.12 577.4,130.21 577.6,129.11 577.8,127.85 578.0,126.43 578.2,124.88 578.4,123.20 578.6,121.42 578.8,119.55 579.0,117.62 579.2,115.64 579.4,113.65 579.6,111.65 579.8,109.68 580.0,107.76 580.2,105.91 580.4,104.15 580.6,102.50 580.8,100.98 581.0,99.61 581.2,98.41 581.4,97.39 581.6,96.56 581.8,95.94 582.0,95.53 582.2,95.38 582.4,95.36 582.6,95.45 582.8,95.65 583.0,95.97 583.2,96.39 583.4,96.93 583.6,97.57 583.8,98.31 584.0,99.15 584.2,100.09 584.4,101.11 584.6,102.22 584.8,103.40 585.0,104.65 585.2,105.96 585.4,107.32 585.6,108.73 585.8,110.18 586.0,111.65 586.2,113.15 586.4,114.65 586.6,116.15 586.8,117.64 587.0,119.11 587.2,120.56 587.4,121.96 587.6,123.32 587.8,124.62 588.0,125.85 588.2,127.01 588.4,128.09 588.6,129.07 588.8,129.96 589.0,130.74 589.2,131.41 589.4,131.96 589.6,132.39 589.8,132.69 590.0,132.86 590.2,132.90 590.4,132.79 590.6,132.55 590.8,132.16 591.0,131.64 591.2,130.97 591.4,130.17 591.6,129.23 591.8,128.15 592.0,126.94 592.2,125.60 592.4,124.15 592.6,122.57 592.8,120.89 593.0,119.10 593.2,117.21 593.4,115.24 593.6,113.19 593.8,111.07 594.0,108.88 594.2,106.65 594.4,104.38 594.6,102.08 594.8,99.75 595.0,97.42 595.2,95.09 595.4,92.78 595.6,90.49 595.8,88.23 596.0,86.03 596.2,83.87 596.4,81.79 596.6,79.78 596.8,77.86 597.0,76.03 597.2,74.31 597.4,72.70 597.6,71.20 597.8,69.84 598.0,68.60 598.2,68.50 598.5,68.55 598.7,68.70 599.0,68.95 599.2,69.29 599.5,69.73 599.7,70.26 600.0,70.89 600.2,71.60 600.5,72.40 600.7,73.28 601.0,74.24 601.2,75.27 601.5,76.37 601.7,77.54 602.0,78.76 602.2,80.04 602.5,81.37 602.7,82.75 603.0,84.16 603.2,85.60 603.5,87.07 603.7,88.57 604.0,90.08 604.2,91.61 604.5,93.14 604.7,94.67 605.0,96.21 605.2,97.73 605.5,99.24 605.7,100.74 606.0,102.22 606.2,103.68 606.5,105.11 606.7,106.51 607.0,107.87 607.2,109.21 607.5,110.51 607.7,111.77 608.0,112.98 608.2,114.16 608.5,115.30 608.7,116.39 609.0,117.44 609.2,118.44 609.5,119.40 609.7,120.32 610.0,121.19 610.2,122.02 610.5,122.80 610.7,123.54 611.0,124.24 611.2,124.91 611.5,125.53 611.7,126.11 612.0,126.66 612.2,127.17 612.5,127.65 612.7,128.10 613.0,128.51 613.2,128.90 613.5,129.25 613.7,129.58 614.0,129.89 614.2,130.17 614.5,130.43 614.7,130.67 615.0,130.88 615.2,131.08 615.5,131.27 615.7,131.43 616.0,131.58 616.2,131.72 616.5,131.85 616.7,131.96 617.0,132.06 617.2,132.15 617.5,132.24 617.7,132.31 618.0,132.38 618.2,132.44 618.5,132.49 618.7,132.54 619.0,132.58 619.2,132.62 619.5,132.66 619.7,132.69 620.0,132.71 620.2,132.74 620.5,132.76 620.7,132.78 621.0,132.79 621.2,132.81 621.5,132.82 621.7,132.83 622.0,132.84 622.2,132.85 622.5,132.85 622.7,132.86 623.0,132.87 623.2,132.87 623.5,132.88 623.7,132.88 624.0,132.88 624.2,132.88 624.5,132.89 624.7,132.89 625.0,132.89 625.2,132.89 625.5,132.89 625.7,132.89 626.0,132.90 626.2,132.90 626.5,132.90 626.7,132.90 627.0,132.90 627.2,132.90 627.5,132.90 627.7,132.90 628.0,132.90 628.2,132.90 628.5,132.90 628.7,132.90 629.0,132.90 629.2,132.90 629.5,132.90 629.7,132.90 630.0,132.90 630.2,132.90 630.5,132.90 630.7,132.90 631.0,132.90 631.2,132.90 631.5,132.90 631.7,132.90 632.0,132.90 632.2,132.90 632.5,132.90 632.7,132.90 633.0,132.90 633.2,132.90 633.5,132.90 633.7,132.90 634.0,132.90 634.2,132.90 634.5,132.90 634.7,132.90 635.0,132.90 635.2,132.90 635.5,132.90 635.7,132.90 636.0,132.90 636.2,132.90 636.5,132.90 636.7,132.90 637.0,132.90 637.2,132.90 637.5,132.90 637.7,132.90 638.0,132.90 638.2,132.90 638.5,132.90 638.7,132.90 639.0,132.90 639.2,132.90 639.5,132.90 639.7,132.90 640.0,132.90 832.0,132.90" fill="#ffe9cf" stroke="#fdb246" stroke-width="2.4" stroke-linejoin="round"/>
<path d="M619,132.25 H832" stroke="#fdb246" stroke-width="3.1" stroke-linecap="round" fill="none"/>
<path d="M58.3,533.40 58.8,533.40 59.3,533.40 59.8,533.40 60.3,533.40 60.8,533.40 61.3,533.40 61.8,533.40 62.3,533.40 62.8,533.40 63.3,533.40 63.8,533.40 64.3,533.40 64.8,533.40 65.3,533.40 65.8,533.40 66.3,533.40 66.8,533.40 67.3,533.40 67.8,533.40 68.3,533.40 68.8,533.40 69.3,533.40 69.8,533.40 70.3,533.40 70.8,533.40 71.3,533.40 71.8,533.40 72.3,533.40 72.8,533.40 73.3,533.40 73.8,533.40 74.3,533.40 74.8,533.40 75.3,533.40 75.8,533.40 76.3,533.40 76.8,533.40 77.3,533.40 77.8,533.40 78.3,533.40 78.8,533.40 79.3,533.40 79.8,533.40 80.3,533.40 80.8,533.40 81.3,533.40 81.8,533.40 82.3,533.40 82.8,533.40 83.3,533.40 83.8,533.40 84.3,533.40 84.8,533.40 85.3,533.40 85.8,533.40 86.3,533.40 86.8,533.40 87.3,533.40 87.8,533.40 88.3,533.40 88.8,533.40 89.3,533.40 89.8,533.40 90.3,533.40 90.8,533.40 91.3,533.40 91.8,533.40 92.3,533.40 92.8,533.40 93.3,533.40 93.8,533.40 94.3,533.40 94.8,533.40 95.3,533.40 95.8,533.40 96.3,533.40 96.8,533.40 97.3,533.40 97.8,533.40 98.3,533.40 98.8,533.40 99.3,533.40 99.8,533.40 100.3,533.40 100.8,533.40 101.3,533.40 101.8,533.40 102.3,533.40 102.8,533.40 103.3,533.40 103.8,533.40 104.3,533.40 104.8,533.40 105.3,533.40 105.8,533.40 106.3,533.40 106.8,533.40 107.3,533.40 107.8,533.40 108.3,533.40 108.8,533.40 109.3,533.40 109.8,533.40 110.3,533.40 110.8,533.40 111.3,533.40 111.8,533.40 112.3,533.40 112.8,533.40 113.3,533.40 113.8,533.40 114.3,533.40 114.8,533.40 115.3,533.40 115.8,533.40 116.3,533.40 116.8,533.40 117.3,533.40 117.8,533.40 118.3,533.40 118.8,533.40 119.3,533.40 119.8,533.40 120.3,533.40 120.8,533.40 121.3,533.40 121.8,533.40 122.3,533.40 122.8,533.40 123.3,533.40 123.8,533.40 124.3,533.40 124.8,533.40 125.3,533.40 125.8,533.40 126.3,533.40 126.8,533.40 127.3,533.40 127.8,533.40 128.3,533.40 128.8,533.40 129.3,533.40 129.8,533.40 130.3,533.40 130.8,533.40 131.3,533.40 131.8,533.40 132.3,533.40 132.8,533.40 133.3,533.40 133.8,533.40 134.3,533.40 134.8,533.40 135.3,533.40 135.8,533.40 136.3,533.40 136.8,533.40 137.3,533.40 137.8,533.40 138.3,533.40 138.8,533.40 139.3,533.40 139.8,533.40 140.3,533.40 140.8,533.40 141.3,533.40 141.8,533.40 142.3,533.40 142.8,533.40 143.3,533.40 143.8,533.40 144.3,533.40 144.8,533.40 145.3,533.40 145.8,533.40 146.3,533.40 146.8,533.40 147.3,533.40 147.8,533.40 148.3,533.40 148.8,533.40 149.3,533.40 149.8,533.40 150.3,533.40 150.8,533.40 151.3,533.40 151.8,533.40 152.3,533.40 152.8,533.40 153.3,533.40 153.8,533.40 154.3,533.40 154.8,533.40 155.3,533.40 155.8,533.40 156.3,533.40 156.8,533.40 157.3,533.40 157.8,533.40 158.3,533.40 158.8,533.40 159.3,533.40 159.8,533.40 160.3,533.40 160.8,533.40 161.3,533.40 161.8,533.40 162.3,533.40 162.8,533.40 163.3,533.40 163.8,533.40 164.3,533.40 164.8,533.40 165.3,533.40 165.8,533.40 166.3,533.40 166.8,533.40 167.3,533.40 167.8,533.40 168.3,533.40 168.8,533.40 169.3,533.40 169.8,533.40 170.3,533.40 170.8,533.40 171.3,533.40 171.8,533.40 172.3,533.40 172.8,533.40 173.3,533.40 173.8,533.40 174.3,533.40 174.8,533.40 175.3,533.40 175.8,533.40 176.3,533.40 176.8,533.40 177.3,533.40 177.8,533.40 178.3,533.40 178.8,533.40 179.3,533.40 179.8,533.40 180.3,533.40 180.8,533.40 181.3,533.40 181.8,533.40 182.3,533.40 182.8,533.40 183.3,533.40 183.8,533.40 184.3,533.40 184.8,533.40 185.3,533.40 185.8,533.40 186.3,533.40 186.8,533.40 187.3,533.40 187.8,533.40 188.3,533.40 188.8,533.40 189.3,533.40 189.8,533.40 190.3,533.40 190.8,533.40 191.3,533.40 191.8,533.40 192.3,533.40 192.8,533.40 193.3,533.40 193.8,533.40 194.3,533.40 194.8,533.40 195.3,533.40 195.8,533.40 196.3,533.40 196.8,533.40 197.3,533.40 197.8,533.40 198.3,533.40 198.8,533.40 199.3,533.40 199.8,533.40 200.3,533.40 200.8,533.40 201.3,533.40 201.8,533.40 202.3,533.40 202.8,533.40 203.3,533.40 203.8,533.40 204.3,533.40 204.8,533.40 205.3,533.40 205.8,533.40 206.3,533.40 206.8,533.40 207.3,533.40 207.8,533.40 208.3,533.40 208.8,533.40 209.3,533.40 209.8,533.40 210.3,533.40 210.8,533.40 211.3,533.40 211.8,533.40 212.3,533.40 212.8,533.40 213.3,533.40 213.8,533.40 214.3,533.40 214.8,533.40 215.3,533.40 215.8,533.40 216.3,533.40 216.8,533.40 217.3,533.40 217.8,533.40 218.3,533.40 218.8,533.40 219.3,533.40 219.8,533.40 220.3,533.40 220.8,533.40 221.3,533.40 221.8,533.40 222.3,533.40 222.8,533.40 223.3,533.40 223.8,533.40 224.3,533.40 224.8,533.40 225.3,533.40 225.8,533.40 226.3,533.40 226.8,533.40 227.3,533.40 227.8,533.40 228.3,533.40 228.8,533.40 229.3,533.40 229.8,533.40 230.3,533.40 230.8,533.40 231.3,533.40 231.8,533.40 232.3,533.40 232.8,533.40 233.3,533.40 233.8,533.40 234.3,533.40 234.8,533.40 235.3,533.40 235.8,533.40 236.3,533.40 236.8,533.40 237.3,533.40 237.8,533.40 238.3,533.40 238.8,533.40 239.3,533.40 239.8,533.40 240.3,533.40 240.8,533.40 241.3,533.40 241.8,533.40 242.3,533.40 242.8,533.40 243.3,533.40 243.8,533.40 244.3,533.40 244.8,533.40 245.3,533.40 245.8,533.40 246.3,533.40 246.8,533.40 247.3,533.40 247.8,533.40 248.3,533.40 248.8,533.40 249.3,533.40 249.8,533.40 250.3,533.40 250.8,533.40 251.3,533.40 251.8,533.40 252.3,533.40 252.8,533.40 253.3,533.40 253.8,533.40 254.3,533.40 254.8,533.40 255.3,533.40 255.8,533.40 256.3,533.40 256.8,533.40 257.3,533.40 257.8,533.40 258.3,533.40 258.8,533.40 259.3,533.40 259.8,533.40 260.3,533.40 260.8,533.40 261.3,533.40 261.8,533.40 262.3,533.40 262.8,533.40 263.3,533.40 263.8,533.40 264.3,533.40 264.8,533.40 265.3,533.40 265.8,533.40 266.3,533.40 266.8,533.40 267.3,533.40 267.8,533.40 268.3,533.40 268.8,533.40 269.3,533.40 269.8,533.40 270.3,533.40 270.8,533.40 271.3,533.40 271.8,533.40 272.3,533.40 272.8,533.40 273.3,533.40 273.8,533.40 274.3,533.40 274.8,533.40 275.3,533.40 275.8,533.40 276.3,533.40 276.8,533.40 277.3,533.40 277.8,533.40 278.3,533.40 278.8,533.40 279.3,533.40 279.8,533.40 280.3,533.40 280.8,533.40 281.3,533.40 281.8,533.40 282.3,533.40 282.8,533.40 283.3,533.40 283.8,533.40 284.3,533.40 284.8,533.40 285.3,533.40 285.8,533.40 286.3,533.40 286.8,533.40 287.3,533.40 287.8,533.40 288.3,533.40 288.8,533.40 289.3,533.40 289.8,533.40 290.3,533.40 290.8,533.40 291.3,533.40 291.8,533.40 292.3,533.40 292.8,533.40 293.3,533.40 293.8,533.40 294.3,533.40 294.8,533.40 295.3,533.40 295.8,533.40 296.3,533.40 296.8,533.40 297.3,533.40 297.8,533.40 298.3,533.40 298.8,533.40 299.3,533.40 299.8,533.40 300.3,533.40 300.8,533.40 301.3,533.40 301.8,533.40 302.3,533.40 302.8,533.40 303.3,533.40 303.8,533.40 304.3,533.40 304.8,533.40 305.3,533.40 305.8,533.40 306.3,533.40 306.8,533.40 307.3,533.40 307.8,533.40 308.3,533.40 308.8,533.40 309.3,533.40 309.8,533.40 310.3,533.40 310.8,533.40 311.3,533.40 311.8,533.40 312.3,533.40 312.8,533.40 313.3,533.40 313.8,533.40 314.3,533.40 314.8,533.40 315.3,533.40 315.8,533.40 316.3,533.40 316.8,533.40 317.3,533.40 317.8,533.40 318.3,533.40 318.8,533.40 319.3,533.40 319.8,533.40 320.3,533.40 320.8,533.40 321.3,533.40 321.8,533.40 322.3,533.40 322.8,533.40 323.3,533.40 323.8,533.40 324.3,533.40 324.8,533.40 325.3,533.40 325.8,533.40 326.3,533.40 326.8,533.40 327.3,533.40 327.8,533.40 328.3,533.40 328.8,533.40 329.3,533.40 329.8,533.40 330.3,533.40 330.8,533.40 331.3,533.40 331.8,533.40 332.3,533.40 332.8,533.40 333.3,533.40 333.8,533.40 334.3,533.40 334.8,533.40 335.3,533.40 335.8,533.40 336.3,533.40 336.8,533.40 337.3,533.40 337.8,533.40 338.3,533.40 338.8,533.40 339.3,533.40 339.8,533.40 340.3,533.40 340.8,533.40 341.3,533.40 341.8,533.40 342.3,533.40 342.8,533.40 343.3,533.40 343.8,533.40 344.3,533.40 344.8,533.40 345.3,533.40 345.8,533.40 346.3,533.40 346.8,533.40 347.3,533.40 347.8,533.40 348.3,533.40 348.8,533.40 349.3,533.40 349.8,533.40 350.3,533.40 350.8,533.40 351.3,533.40 351.8,533.40 352.3,533.40 352.8,533.40 353.3,533.40 353.8,533.40 354.3,533.40 354.8,533.39 355.3,533.39 355.8,533.39 356.3,533.39 356.8,533.39 357.3,533.39 357.8,533.39 358.3,533.39 358.8,533.39 359.3,533.39 359.8,533.39 360.3,533.38 360.8,533.38 361.3,533.38 361.8,533.38 362.3,533.38 362.8,533.38 363.3,533.37 363.8,533.37 364.3,533.37 364.8,533.37 365.3,533.36 365.8,533.36 366.3,533.36 366.8,533.35 367.3,533.35 367.8,533.34 368.3,533.34 368.8,533.33 369.3,533.33 369.8,533.32 370.3,533.32 370.8,533.31 371.3,533.30 371.8,533.29 372.3,533.28 372.8,533.28 373.3,533.27 373.8,533.25 374.3,533.24 374.8,533.23 375.3,533.22 375.8,533.20 376.3,533.19 376.8,533.17 377.3,533.16 377.8,533.14 378.3,533.12 378.8,533.10 379.3,533.08 379.8,533.05 380.3,533.03 380.8,533.00 381.3,532.97 381.8,532.94 382.3,532.91 382.8,532.88 383.3,532.84 383.8,532.80 384.3,532.76 384.8,532.72 385.3,532.68 385.8,532.63 386.3,532.58 386.8,532.53 387.3,532.47 387.8,532.42 388.3,532.35 388.8,532.29 389.3,532.22 389.8,532.15 390.3,532.08 390.8,532.00 391.3,531.92 391.8,531.83 392.3,531.74 392.8,531.65 393.3,531.55 393.8,531.45 394.3,531.34 394.8,531.23 395.3,531.11 395.8,530.99 396.3,530.86 396.8,530.73 397.3,530.59 397.8,530.45 398.3,530.30 398.8,530.14 399.3,529.98 399.8,529.82 400.3,529.65 400.8,529.47 401.3,529.29 401.8,529.10 402.3,528.90 402.8,528.70 403.3,528.49 403.8,528.27 404.3,528.05 404.8,527.82 405.3,527.59 405.8,527.35 406.3,527.10 406.8,526.85 407.3,526.59 407.8,526.32 408.3,526.05 408.8,525.77 409.3,525.48 409.8,525.19 410.3,524.89 410.8,524.59 411.3,524.28 411.8,523.96 412.3,523.64 412.8,523.32 413.3,522.99 413.8,522.65 414.3,522.31 414.8,521.97 415.3,521.62 415.8,521.26 416.3,520.91 416.8,520.55 417.3,520.19 417.8,519.82 418.3,519.46 418.8,519.09 419.3,518.72 419.8,518.34 420.3,517.97 420.8,517.60 421.3,517.23 421.8,516.85 422.3,516.48 422.8,516.11 423.3,515.74 423.8,515.38 424.3,515.01 424.8,514.65 425.3,514.30 425.8,513.94 426.3,513.60 426.8,513.25 427.3,512.92 427.8,512.58 428.3,512.26 428.8,511.94 429.3,511.63 429.8,511.33 430.3,511.03 430.8,510.75 431.3,510.47 431.8,510.20 432.3,509.95 432.8,509.70 433.3,509.46 433.8,509.24 434.3,509.03 434.8,508.83 435.3,508.64 435.8,508.46 436.3,508.30 436.8,508.15 437.3,508.01 437.8,507.88 438.3,507.77 438.8,507.68 439.3,507.60 439.8,507.53 440.3,507.47 440.8,507.44 441.3,507.41 441.8,507.40 441.9,507.40 442.4,507.41 442.9,507.44 443.4,507.48 443.9,507.54 444.4,507.62 444.9,507.72 445.4,507.84 445.9,507.97 446.4,508.12 446.9,508.29 447.4,508.47 447.9,508.67 448.4,508.89 448.9,509.12 449.4,509.37 449.9,509.63 450.4,509.91 450.9,510.21 451.4,510.51 451.9,510.83 452.4,511.16 452.9,511.51 453.4,511.87 453.9,512.24 454.4,512.62 454.9,513.01 455.4,513.41 455.9,513.82 456.4,514.24 456.9,514.66 457.4,515.10 457.9,515.54 458.4,515.98 458.9,516.44 459.4,516.90 459.9,517.36 460.4,517.82 460.9,518.29 461.4,518.76 461.9,519.23 462.4,519.71 462.9,520.18 463.4,520.65 463.9,521.13 464.4,521.60 464.9,522.06 465.4,522.53 465.9,522.99 466.4,523.44 466.9,523.89 467.4,524.34 467.9,524.78 468.4,525.21 468.9,525.63 469.4,526.05 469.9,526.45 470.4,526.85 470.9,527.24 471.4,527.61 471.9,527.98 472.4,528.33 472.9,528.67 473.4,529.00 473.9,529.31 474.4,529.61 474.9,529.90 475.4,530.17 475.9,530.43 476.4,530.67 476.9,530.90 477.4,531.11 477.9,531.30 478.4,531.48 478.9,531.64 479.4,531.78 479.9,531.91 480.4,532.02 480.9,532.11 481.4,532.18 481.9,532.24 482.4,532.28 482.9,532.30 483.2,532.30 483.7,532.29 484.2,532.26 484.7,532.21 485.2,532.15 485.7,532.06 486.2,531.95 486.7,531.83 487.2,531.69 487.7,531.53 488.2,531.35 488.7,531.15 489.2,530.94 489.7,530.71 490.2,530.46 490.7,530.20 491.2,529.92 491.7,529.63 492.2,529.32 492.7,529.00 493.2,528.66 493.7,528.32 494.2,527.96 494.7,527.59 495.2,527.21 495.7,526.81 496.2,526.41 496.7,526.00 497.2,525.59 497.7,525.16 498.2,524.73 498.7,524.30 499.2,523.86 499.7,523.42 500.2,522.97 500.7,522.52 501.2,522.07 501.7,521.62 502.2,521.17 502.7,520.72 503.2,520.27 503.7,519.83 504.2,519.39 504.7,518.95 505.2,518.52 505.7,518.10 506.2,517.68 506.7,517.27 507.2,516.87 507.7,516.47 508.2,516.09 508.7,515.72 509.2,515.35 509.7,515.00 510.2,514.67 510.7,514.34 511.2,514.03 511.7,513.74 512.2,513.46 512.7,513.19 513.2,512.94 513.7,512.71 514.2,512.49 514.7,512.29 515.2,512.11 515.7,511.94 516.2,511.80 516.7,511.67 517.2,511.56 517.7,511.47 518.2,511.40 518.7,511.35 519.2,511.31 519.7,511.30 519.8,511.30 520.3,511.31 520.8,511.34 521.3,511.39 521.8,511.46 522.3,511.54 522.8,511.65 523.3,511.78 523.8,511.92 524.3,512.08 524.8,512.26 525.3,512.46 525.8,512.68 526.3,512.91 526.8,513.16 527.3,513.42 527.8,513.70 528.3,514.00 528.8,514.31 529.3,514.64 529.8,514.97 530.3,515.32 530.8,515.69 531.3,516.06 531.8,516.45 532.3,516.84 532.8,517.24 533.3,517.66 533.8,518.08 534.3,518.50 534.8,518.94 535.3,519.38 535.8,519.82 536.3,520.26 536.8,520.71 537.3,521.17 537.8,521.62 538.3,522.07 538.8,522.52 539.3,522.98 539.8,523.42 540.3,523.87 540.8,524.31 541.3,524.75 541.8,525.18 542.3,525.61 542.8,526.03 543.3,526.44 543.8,526.84 544.3,527.23 544.8,527.61 545.3,527.99 545.8,528.35 546.3,528.69 546.8,529.03 547.3,529.35 547.8,529.66 548.3,529.95 548.8,530.23 549.3,530.49 549.8,530.74 550.3,530.97 550.8,531.18 551.3,531.37 551.8,531.55 552.3,531.71 552.8,531.85 553.3,531.97 553.8,532.08 554.3,532.16 554.8,532.22 555.3,532.27 555.8,532.29 556.2,532.30 556.7,532.29 557.2,532.26 557.7,532.21 558.2,532.14 558.7,532.04 559.2,531.93 559.7,531.80 560.2,531.65 560.7,531.48 561.2,531.28 561.7,531.08 562.2,530.85 562.7,530.60 563.2,530.34 563.7,530.06 564.2,529.76 564.7,529.45 565.2,529.12 565.7,528.78 566.2,528.42 566.7,528.05 567.2,527.66 567.7,527.26 568.2,526.86 568.7,526.44 569.2,526.01 569.7,525.57 570.2,525.12 570.7,524.67 571.2,524.21 571.7,523.74 572.2,523.26 572.7,522.79 573.2,522.31 573.7,521.82 574.2,521.34 574.7,520.85 575.2,520.36 575.7,519.88 576.2,519.39 576.7,518.91 577.2,518.43 577.7,517.96 578.2,517.49 578.7,517.02 579.2,516.57 579.7,516.12 580.2,515.68 580.7,515.25 581.2,514.83 581.7,514.42 582.2,514.02 582.7,513.63 583.2,513.26 583.7,512.90 584.2,512.55 584.7,512.22 585.2,511.90 585.7,511.60 586.2,511.32 586.7,511.05 587.2,510.80 587.7,510.57 588.2,510.36 588.7,510.16 589.2,509.99 589.7,509.83 590.2,509.69 590.7,509.58 591.2,509.48 591.7,509.41 592.2,509.35 592.7,509.31 593.2,509.30 593.3,509.30 593.8,509.31 594.3,509.34 594.8,509.39 595.3,509.45 595.8,509.54 596.3,509.64 596.8,509.77 597.3,509.91 597.8,510.07 598.3,510.25 598.8,510.44 599.3,510.66 599.8,510.89 600.3,511.13 600.8,511.40 601.3,511.68 601.8,511.97 602.3,512.28 602.8,512.60 603.3,512.94 603.8,513.29 604.3,513.65 604.8,514.03 605.3,514.41 605.8,514.81 606.3,515.21 606.8,515.63 607.3,516.05 607.8,516.49 608.3,516.93 608.8,517.37 609.3,517.82 609.8,518.28 610.3,518.74 610.8,519.21 611.3,519.67 611.8,520.14 612.3,520.61 612.8,521.08 613.3,521.55 613.8,522.02 614.3,522.49 614.8,522.95 615.3,523.41 615.8,523.87 616.3,524.32 616.8,524.76 617.3,525.20 617.8,525.63 618.3,526.05 618.8,526.47 619.3,526.87 619.8,527.27 620.3,527.65 620.8,528.02 621.3,528.38 621.8,528.73 622.3,529.06 622.8,529.38 623.3,529.69 623.8,529.98 624.3,530.26 624.8,530.52 625.3,530.76 625.8,530.99 626.3,531.20 626.8,531.39 627.3,531.56 627.8,531.72 628.3,531.86 628.8,531.98 629.3,532.08 629.8,532.16 630.3,532.22 630.8,532.27 631.3,532.29 631.7,532.30 632.2,532.29 632.7,532.26 633.2,532.21 633.7,532.14 634.2,532.06 634.7,531.95 635.2,531.82 635.7,531.68 636.2,531.51 636.7,531.33 637.2,531.13 637.7,530.91 638.2,530.68 638.7,530.43 639.2,530.16 639.7,529.87 640.2,529.57 640.7,529.25 641.2,528.92 641.7,528.57 642.2,528.21 642.7,527.84 643.2,527.45 643.7,527.05 644.2,526.64 644.7,526.22 645.2,525.78 645.7,525.34 646.2,524.89 646.7,524.43 647.2,523.96 647.7,523.48 648.2,523.00 648.7,522.51 649.2,522.02 649.7,521.52 650.2,521.02 650.7,520.52 651.2,520.01 651.7,519.51 652.2,519.00 652.7,518.49 653.2,517.98 653.7,517.48 654.2,516.98 654.7,516.48 655.2,515.98 655.7,515.49 656.2,515.01 656.7,514.53 657.2,514.06 657.7,513.60 658.2,513.14 658.7,512.69 659.2,512.26 659.7,511.83 660.2,511.41 660.7,511.01 661.2,510.62 661.7,510.24 662.2,509.87 662.7,509.52 663.2,509.18 663.7,508.86 664.2,508.55 664.7,508.26 665.2,507.98 665.7,507.72 666.2,507.48 666.7,507.25 667.2,507.05 667.7,506.86 668.2,506.69 668.7,506.53 669.2,506.40 669.7,506.28 670.2,506.19 670.7,506.11 671.2,506.06 671.7,506.02 672.2,506.00 672.4,506.00 672.9,506.01 673.4,506.04 673.9,506.08 674.4,506.15 674.9,506.23 675.4,506.33 675.9,506.45 676.4,506.59 676.9,506.74 677.4,506.92 677.9,507.11 678.4,507.31 678.9,507.54 679.4,507.78 679.9,508.03 680.4,508.31 680.9,508.59 681.4,508.90 681.9,509.21 682.4,509.54 682.9,509.89 683.4,510.24 683.9,510.61 684.4,511.00 684.9,511.39 685.4,511.79 685.9,512.21 686.4,512.63 686.9,513.07 687.4,513.51 687.9,513.96 688.4,514.42 688.9,514.88 689.4,515.35 689.9,515.83 690.4,516.31 690.9,516.79 691.4,517.28 691.9,517.77 692.4,518.26 692.9,518.75 693.4,519.25 693.9,519.74 694.4,520.24 694.9,520.73 695.4,521.22 695.9,521.70 696.4,522.19 696.9,522.66 697.4,523.14 697.9,523.61 698.4,524.07 698.9,524.52 699.4,524.97 699.9,525.41 700.4,525.84 700.9,526.26 701.4,526.67 701.9,527.07 702.4,527.46 702.9,527.84 703.4,528.20 703.9,528.55 704.4,528.89 704.9,529.22 705.4,529.53 705.9,529.82 706.4,530.10 706.9,530.37 707.4,530.62 707.9,530.85 708.4,531.07 708.9,531.27 709.4,531.45 709.9,531.62 710.4,531.77 710.9,531.90 711.4,532.01 711.9,532.10 712.4,532.18 712.9,532.24 713.4,532.28 713.9,532.30 714.2,532.30 714.7,532.29 715.2,532.26 715.7,532.21 716.2,532.13 716.7,532.04 717.2,531.93 717.7,531.79 718.2,531.64 718.7,531.47 719.2,531.27 719.7,531.06 720.2,530.83 720.7,530.58 721.2,530.31 721.7,530.02 722.2,529.72 722.7,529.40 723.2,529.06 723.7,528.70 724.2,528.33 724.7,527.94 725.2,527.54 725.7,527.12 726.2,526.69 726.7,526.25 727.2,525.79 727.7,525.32 728.2,524.84 728.7,524.35 729.2,523.85 729.7,523.34 730.2,522.81 730.7,522.29 731.2,521.75 731.7,521.20 732.2,520.65 732.7,520.10 733.2,519.54 733.7,518.97 734.2,518.40 734.7,517.83 735.2,517.26 735.7,516.69 736.2,516.11 736.7,515.54 737.2,514.97 737.7,514.40 738.2,513.83 738.7,513.26 739.2,512.70 739.7,512.15 740.2,511.60 740.7,511.05 741.2,510.51 741.7,509.99 742.2,509.46 742.7,508.95 743.2,508.45 743.7,507.96 744.2,507.48 744.7,507.01 745.2,506.55 745.7,506.11 746.2,505.68 746.7,505.26 747.2,504.86 747.7,504.47 748.2,504.10 748.7,503.74 749.2,503.40 749.7,503.08 750.2,502.78 750.7,502.49 751.2,502.22 751.7,501.97 752.2,501.74 752.7,501.53 753.2,501.33 753.7,501.16 754.2,501.01 754.7,500.87 755.2,500.76 755.7,500.67 756.2,500.59 756.7,500.54 757.2,500.51 757.7,500.50 758.2,500.51 758.7,500.54 759.2,500.58 759.7,500.65 760.2,500.73 760.7,500.83 761.2,500.95 761.7,501.09 762.2,501.24 762.7,501.42 763.2,501.61 763.7,501.82 764.2,502.04 764.7,502.28 765.2,502.54 765.7,502.81 766.2,503.10 766.7,503.41 767.2,503.73 767.7,504.07 768.2,504.42 768.7,504.78 769.2,505.16 769.7,505.55 770.2,505.95 770.7,506.37 771.2,506.79 771.7,507.23 772.2,507.68 772.7,508.14 773.2,508.61 773.7,509.08 774.2,509.57 774.7,510.07 775.2,510.57 775.7,511.08 776.2,511.59 776.7,512.11 777.2,512.64 777.7,513.17 778.2,513.70 778.7,514.23 779.2,514.77 779.7,515.31 780.2,515.86 780.7,516.40 781.2,516.94 781.7,517.49 782.2,518.03 782.7,518.57 783.2,519.10 783.7,519.63 784.2,520.16 784.7,520.69 785.2,521.21 785.7,521.72 786.2,522.23 786.7,522.73 787.2,523.23 787.7,523.72 788.2,524.19 788.7,524.66 789.2,525.12 789.7,525.57 790.2,526.01 790.7,526.43 791.2,526.85 791.7,527.25 792.2,527.64 792.7,528.02 793.2,528.38 793.7,528.73 794.2,529.07 794.7,529.39 795.2,529.70 795.7,529.99 796.2,530.26 796.7,530.52 797.2,530.76 797.7,530.98 798.2,531.19 798.7,531.38 799.2,531.56 799.7,531.71 800.2,531.85 800.7,531.97 801.2,532.07 801.7,532.15 802.2,532.22 802.7,532.26 803.2,532.29 803.7,532.30 804.2,532.29 804.7,532.26 805.2,532.21 805.7,532.14 806.2,532.06 806.7,531.95 807.2,531.83 807.7,531.68 808.2,531.52 808.7,531.34 809.2,531.14 809.7,530.92 810.2,530.68 810.7,530.43 811.2,530.16 811.7,529.87 812.2,529.56 812.7,529.24 813.2,528.90 813.7,528.55 814.2,528.18 814.7,527.80 815.2,527.40 815.7,526.98 816.2,526.56 816.7,526.12 817.2,525.67 817.7,525.20 818.2,524.73 818.7,524.24 819.2,523.74 819.7,523.24 820.2,522.72 820.7,522.19 821.2,521.66 821.7,521.12 822.2,520.57 822.7,520.01 823.2,519.45 823.7,518.89 824.2,518.32 824.7,517.74 825.2,517.16 825.7,516.58 826.2,516.00 826.7,515.41 827.2,514.83 827.7,514.24 828.2,513.65 828.7,513.07 829.2,512.49 829.7,511.91 830.2,511.33 830.7,510.76 831.2,510.19 831.7,509.62 L831.70,536.5 L58.3,536.5 Z" fill="#ffe9cf" stroke="none" clip-path="url(#cfill)"/>
<path d="M58.3,533.40 58.8,533.40 59.3,533.40 59.8,533.40 60.3,533.40 60.8,533.40 61.3,533.40 61.8,533.40 62.3,533.40 62.8,533.40 63.3,533.40 63.8,533.40 64.3,533.40 64.8,533.40 65.3,533.40 65.8,533.40 66.3,533.40 66.8,533.40 67.3,533.40 67.8,533.40 68.3,533.40 68.8,533.40 69.3,533.40 69.8,533.40 70.3,533.40 70.8,533.40 71.3,533.40 71.8,533.40 72.3,533.40 72.8,533.40 73.3,533.40 73.8,533.40 74.3,533.40 74.8,533.40 75.3,533.40 75.8,533.40 76.3,533.40 76.8,533.40 77.3,533.40 77.8,533.40 78.3,533.40 78.8,533.40 79.3,533.40 79.8,533.40 80.3,533.40 80.8,533.40 81.3,533.40 81.8,533.40 82.3,533.40 82.8,533.40 83.3,533.40 83.8,533.40 84.3,533.40 84.8,533.40 85.3,533.40 85.8,533.40 86.3,533.40 86.8,533.40 87.3,533.40 87.8,533.40 88.3,533.40 88.8,533.40 89.3,533.40 89.8,533.40 90.3,533.40 90.8,533.40 91.3,533.40 91.8,533.40 92.3,533.40 92.8,533.40 93.3,533.40 93.8,533.40 94.3,533.40 94.8,533.40 95.3,533.40 95.8,533.40 96.3,533.40 96.8,533.40 97.3,533.40 97.8,533.40 98.3,533.40 98.8,533.40 99.3,533.40 99.8,533.40 100.3,533.40 100.8,533.40 101.3,533.40 101.8,533.40 102.3,533.40 102.8,533.40 103.3,533.40 103.8,533.40 104.3,533.40 104.8,533.40 105.3,533.40 105.8,533.40 106.3,533.40 106.8,533.40 107.3,533.40 107.8,533.40 108.3,533.40 108.8,533.40 109.3,533.40 109.8,533.40 110.3,533.40 110.8,533.40 111.3,533.40 111.8,533.40 112.3,533.40 112.8,533.40 113.3,533.40 113.8,533.40 114.3,533.40 114.8,533.40 115.3,533.40 115.8,533.40 116.3,533.40 116.8,533.40 117.3,533.40 117.8,533.40 118.3,533.40 118.8,533.40 119.3,533.40 119.8,533.40 120.3,533.40 120.8,533.40 121.3,533.40 121.8,533.40 122.3,533.40 122.8,533.40 123.3,533.40 123.8,533.40 124.3,533.40 124.8,533.40 125.3,533.40 125.8,533.40 126.3,533.40 126.8,533.40 127.3,533.40 127.8,533.40 128.3,533.40 128.8,533.40 129.3,533.40 129.8,533.40 130.3,533.40 130.8,533.40 131.3,533.40 131.8,533.40 132.3,533.40 132.8,533.40 133.3,533.40 133.8,533.40 134.3,533.40 134.8,533.40 135.3,533.40 135.8,533.40 136.3,533.40 136.8,533.40 137.3,533.40 137.8,533.40 138.3,533.40 138.8,533.40 139.3,533.40 139.8,533.40 140.3,533.40 140.8,533.40 141.3,533.40 141.8,533.40 142.3,533.40 142.8,533.40 143.3,533.40 143.8,533.40 144.3,533.40 144.8,533.40 145.3,533.40 145.8,533.40 146.3,533.40 146.8,533.40 147.3,533.40 147.8,533.40 148.3,533.40 148.8,533.40 149.3,533.40 149.8,533.40 150.3,533.40 150.8,533.40 151.3,533.40 151.8,533.40 152.3,533.40 152.8,533.40 153.3,533.40 153.8,533.40 154.3,533.40 154.8,533.40 155.3,533.40 155.8,533.40 156.3,533.40 156.8,533.40 157.3,533.40 157.8,533.40 158.3,533.40 158.8,533.40 159.3,533.40 159.8,533.40 160.3,533.40 160.8,533.40 161.3,533.40 161.8,533.40 162.3,533.40 162.8,533.40 163.3,533.40 163.8,533.40 164.3,533.40 164.8,533.40 165.3,533.40 165.8,533.40 166.3,533.40 166.8,533.40 167.3,533.40 167.8,533.40 168.3,533.40 168.8,533.40 169.3,533.40 169.8,533.40 170.3,533.40 170.8,533.40 171.3,533.40 171.8,533.40 172.3,533.40 172.8,533.40 173.3,533.40 173.8,533.40 174.3,533.40 174.8,533.40 175.3,533.40 175.8,533.40 176.3,533.40 176.8,533.40 177.3,533.40 177.8,533.40 178.3,533.40 178.8,533.40 179.3,533.40 179.8,533.40 180.3,533.40 180.8,533.40 181.3,533.40 181.8,533.40 182.3,533.40 182.8,533.40 183.3,533.40 183.8,533.40 184.3,533.40 184.8,533.40 185.3,533.40 185.8,533.40 186.3,533.40 186.8,533.40 187.3,533.40 187.8,533.40 188.3,533.40 188.8,533.40 189.3,533.40 189.8,533.40 190.3,533.40 190.8,533.40 191.3,533.40 191.8,533.40 192.3,533.40 192.8,533.40 193.3,533.40 193.8,533.40 194.3,533.40 194.8,533.40 195.3,533.40 195.8,533.40 196.3,533.40 196.8,533.40 197.3,533.40 197.8,533.40 198.3,533.40 198.8,533.40 199.3,533.40 199.8,533.40 200.3,533.40 200.8,533.40 201.3,533.40 201.8,533.40 202.3,533.40 202.8,533.40 203.3,533.40 203.8,533.40 204.3,533.40 204.8,533.40 205.3,533.40 205.8,533.40 206.3,533.40 206.8,533.40 207.3,533.40 207.8,533.40 208.3,533.40 208.8,533.40 209.3,533.40 209.8,533.40 210.3,533.40 210.8,533.40 211.3,533.40 211.8,533.40 212.3,533.40 212.8,533.40 213.3,533.40 213.8,533.40 214.3,533.40 214.8,533.40 215.3,533.40 215.8,533.40 216.3,533.40 216.8,533.40 217.3,533.40 217.8,533.40 218.3,533.40 218.8,533.40 219.3,533.40 219.8,533.40 220.3,533.40 220.8,533.40 221.3,533.40 221.8,533.40 222.3,533.40 222.8,533.40 223.3,533.40 223.8,533.40 224.3,533.40 224.8,533.40 225.3,533.40 225.8,533.40 226.3,533.40 226.8,533.40 227.3,533.40 227.8,533.40 228.3,533.40 228.8,533.40 229.3,533.40 229.8,533.40 230.3,533.40 230.8,533.40 231.3,533.40 231.8,533.40 232.3,533.40 232.8,533.40 233.3,533.40 233.8,533.40 234.3,533.40 234.8,533.40 235.3,533.40 235.8,533.40 236.3,533.40 236.8,533.40 237.3,533.40 237.8,533.40 238.3,533.40 238.8,533.40 239.3,533.40 239.8,533.40 240.3,533.40 240.8,533.40 241.3,533.40 241.8,533.40 242.3,533.40 242.8,533.40 243.3,533.40 243.8,533.40 244.3,533.40 244.8,533.40 245.3,533.40 245.8,533.40 246.3,533.40 246.8,533.40 247.3,533.40 247.8,533.40 248.3,533.40 248.8,533.40 249.3,533.40 249.8,533.40 250.3,533.40 250.8,533.40 251.3,533.40 251.8,533.40 252.3,533.40 252.8,533.40 253.3,533.40 253.8,533.40 254.3,533.40 254.8,533.40 255.3,533.40 255.8,533.40 256.3,533.40 256.8,533.40 257.3,533.40 257.8,533.40 258.3,533.40 258.8,533.40 259.3,533.40 259.8,533.40 260.3,533.40 260.8,533.40 261.3,533.40 261.8,533.40 262.3,533.40 262.8,533.40 263.3,533.40 263.8,533.40 264.3,533.40 264.8,533.40 265.3,533.40 265.8,533.40 266.3,533.40 266.8,533.40 267.3,533.40 267.8,533.40 268.3,533.40 268.8,533.40 269.3,533.40 269.8,533.40 270.3,533.40 270.8,533.40 271.3,533.40 271.8,533.40 272.3,533.40 272.8,533.40 273.3,533.40 273.8,533.40 274.3,533.40 274.8,533.40 275.3,533.40 275.8,533.40 276.3,533.40 276.8,533.40 277.3,533.40 277.8,533.40 278.3,533.40 278.8,533.40 279.3,533.40 279.8,533.40 280.3,533.40 280.8,533.40 281.3,533.40 281.8,533.40 282.3,533.40 282.8,533.40 283.3,533.40 283.8,533.40 284.3,533.40 284.8,533.40 285.3,533.40 285.8,533.40 286.3,533.40 286.8,533.40 287.3,533.40 287.8,533.40 288.3,533.40 288.8,533.40 289.3,533.40 289.8,533.40 290.3,533.40 290.8,533.40 291.3,533.40 291.8,533.40 292.3,533.40 292.8,533.40 293.3,533.40 293.8,533.40 294.3,533.40 294.8,533.40 295.3,533.40 295.8,533.40 296.3,533.40 296.8,533.40 297.3,533.40 297.8,533.40 298.3,533.40 298.8,533.40 299.3,533.40 299.8,533.40 300.3,533.40 300.8,533.40 301.3,533.40 301.8,533.40 302.3,533.40 302.8,533.40 303.3,533.40 303.8,533.40 304.3,533.40 304.8,533.40 305.3,533.40 305.8,533.40 306.3,533.40 306.8,533.40 307.3,533.40 307.8,533.40 308.3,533.40 308.8,533.40 309.3,533.40 309.8,533.40 310.3,533.40 310.8,533.40 311.3,533.40 311.8,533.40 312.3,533.40 312.8,533.40 313.3,533.40 313.8,533.40 314.3,533.40 314.8,533.40 315.3,533.40 315.8,533.40 316.3,533.40 316.8,533.40 317.3,533.40 317.8,533.40 318.3,533.40 318.8,533.40 319.3,533.40 319.8,533.40 320.3,533.40 320.8,533.40 321.3,533.40 321.8,533.40 322.3,533.40 322.8,533.40 323.3,533.40 323.8,533.40 324.3,533.40 324.8,533.40 325.3,533.40 325.8,533.40 326.3,533.40 326.8,533.40 327.3,533.40 327.8,533.40 328.3,533.40 328.8,533.40 329.3,533.40 329.8,533.40 330.3,533.40 330.8,533.40 331.3,533.40 331.8,533.40 332.3,533.40 332.8,533.40 333.3,533.40 333.8,533.40 334.3,533.40 334.8,533.40 335.3,533.40 335.8,533.40 336.3,533.40 336.8,533.40 337.3,533.40 337.8,533.40 338.3,533.40 338.8,533.40 339.3,533.40 339.8,533.40 340.3,533.40 340.8,533.40 341.3,533.40 341.8,533.40 342.3,533.40 342.8,533.40 343.3,533.40 343.8,533.40 344.3,533.40 344.8,533.40 345.3,533.40 345.8,533.40 346.3,533.40 346.8,533.40 347.3,533.40 347.8,533.40 348.3,533.40 348.8,533.40 349.3,533.40 349.8,533.40 350.3,533.40 350.8,533.40 351.3,533.40 351.8,533.40 352.3,533.40 352.8,533.40 353.3,533.40 353.8,533.40 354.3,533.40 354.8,533.39 355.3,533.39 355.8,533.39 356.3,533.39 356.8,533.39 357.3,533.39 357.8,533.39 358.3,533.39 358.8,533.39 359.3,533.39 359.8,533.39 360.3,533.38 360.8,533.38 361.3,533.38 361.8,533.38 362.3,533.38 362.8,533.38 363.3,533.37 363.8,533.37 364.3,533.37 364.8,533.37 365.3,533.36 365.8,533.36 366.3,533.36 366.8,533.35 367.3,533.35 367.8,533.34 368.3,533.34 368.8,533.33 369.3,533.33 369.8,533.32 370.3,533.32 370.8,533.31 371.3,533.30 371.8,533.29 372.3,533.28 372.8,533.28 373.3,533.27 373.8,533.25 374.3,533.24 374.8,533.23 375.3,533.22 375.8,533.20 376.3,533.19 376.8,533.17 377.3,533.16 377.8,533.14 378.3,533.12 378.8,533.10 379.3,533.08 379.8,533.05 380.3,533.03 380.8,533.00 381.3,532.97 381.8,532.94 382.3,532.91 382.8,532.88 383.3,532.84 383.8,532.80 384.3,532.76 384.8,532.72 385.3,532.68 385.8,532.63 386.3,532.58 386.8,532.53 387.3,532.47 387.8,532.42 388.3,532.35 388.8,532.29 389.3,532.22 389.8,532.15 390.3,532.08 390.8,532.00 391.3,531.92 391.8,531.83 392.3,531.74 392.8,531.65 393.3,531.55 393.8,531.45 394.3,531.34 394.8,531.23 395.3,531.11 395.8,530.99 396.3,530.86 396.8,530.73 397.3,530.59 397.8,530.45 398.3,530.30 398.8,530.14 399.3,529.98 399.8,529.82 400.3,529.65 400.8,529.47 401.3,529.29 401.8,529.10 402.3,528.90 402.8,528.70 403.3,528.49 403.8,528.27 404.3,528.05 404.8,527.82 405.3,527.59 405.8,527.35 406.3,527.10 406.8,526.85 407.3,526.59 407.8,526.32 408.3,526.05 408.8,525.77 409.3,525.48 409.8,525.19 410.3,524.89 410.8,524.59 411.3,524.28 411.8,523.96 412.3,523.64 412.8,523.32 413.3,522.99 413.8,522.65 414.3,522.31 414.8,521.97 415.3,521.62 415.8,521.26 416.3,520.91 416.8,520.55 417.3,520.19 417.8,519.82 418.3,519.46 418.8,519.09 419.3,518.72 419.8,518.34 420.3,517.97 420.8,517.60 421.3,517.23 421.8,516.85 422.3,516.48 422.8,516.11 423.3,515.74 423.8,515.38 424.3,515.01 424.8,514.65 425.3,514.30 425.8,513.94 426.3,513.60 426.8,513.25 427.3,512.92 427.8,512.58 428.3,512.26 428.8,511.94 429.3,511.63 429.8,511.33 430.3,511.03 430.8,510.75 431.3,510.47 431.8,510.20 432.3,509.95 432.8,509.70 433.3,509.46 433.8,509.24 434.3,509.03 434.8,508.83 435.3,508.64 435.8,508.46 436.3,508.30 436.8,508.15 437.3,508.01 437.8,507.88 438.3,507.77 438.8,507.68 439.3,507.60 439.8,507.53 440.3,507.47 440.8,507.44 441.3,507.41 441.8,507.40 441.9,507.40 442.4,507.41 442.9,507.44 443.4,507.48 443.9,507.54 444.4,507.62 444.9,507.72 445.4,507.84 445.9,507.97 446.4,508.12 446.9,508.29 447.4,508.47 447.9,508.67 448.4,508.89 448.9,509.12 449.4,509.37 449.9,509.63 450.4,509.91 450.9,510.21 451.4,510.51 451.9,510.83 452.4,511.16 452.9,511.51 453.4,511.87 453.9,512.24 454.4,512.62 454.9,513.01 455.4,513.41 455.9,513.82 456.4,514.24 456.9,514.66 457.4,515.10 457.9,515.54 458.4,515.98 458.9,516.44 459.4,516.90 459.9,517.36 460.4,517.82 460.9,518.29 461.4,518.76 461.9,519.23 462.4,519.71 462.9,520.18 463.4,520.65 463.9,521.13 464.4,521.60 464.9,522.06 465.4,522.53 465.9,522.99 466.4,523.44 466.9,523.89 467.4,524.34 467.9,524.78 468.4,525.21 468.9,525.63 469.4,526.05 469.9,526.45 470.4,526.85 470.9,527.24 471.4,527.61 471.9,527.98 472.4,528.33 472.9,528.67 473.4,529.00 473.9,529.31 474.4,529.61 474.9,529.90 475.4,530.17 475.9,530.43 476.4,530.67 476.9,530.90 477.4,531.11 477.9,531.30 478.4,531.48 478.9,531.64 479.4,531.78 479.9,531.91 480.4,532.02 480.9,532.11 481.4,532.18 481.9,532.24 482.4,532.28 482.9,532.30 483.2,532.30 483.7,532.29 484.2,532.26 484.7,532.21 485.2,532.15 485.7,532.06 486.2,531.95 486.7,531.83 487.2,531.69 487.7,531.53 488.2,531.35 488.7,531.15 489.2,530.94 489.7,530.71 490.2,530.46 490.7,530.20 491.2,529.92 491.7,529.63 492.2,529.32 492.7,529.00 493.2,528.66 493.7,528.32 494.2,527.96 494.7,527.59 495.2,527.21 495.7,526.81 496.2,526.41 496.7,526.00 497.2,525.59 497.7,525.16 498.2,524.73 498.7,524.30 499.2,523.86 499.7,523.42 500.2,522.97 500.7,522.52 501.2,522.07 501.7,521.62 502.2,521.17 502.7,520.72 503.2,520.27 503.7,519.83 504.2,519.39 504.7,518.95 505.2,518.52 505.7,518.10 506.2,517.68 506.7,517.27 507.2,516.87 507.7,516.47 508.2,516.09 508.7,515.72 509.2,515.35 509.7,515.00 510.2,514.67 510.7,514.34 511.2,514.03 511.7,513.74 512.2,513.46 512.7,513.19 513.2,512.94 513.7,512.71 514.2,512.49 514.7,512.29 515.2,512.11 515.7,511.94 516.2,511.80 516.7,511.67 517.2,511.56 517.7,511.47 518.2,511.40 518.7,511.35 519.2,511.31 519.7,511.30 519.8,511.30 520.3,511.31 520.8,511.34 521.3,511.39 521.8,511.46 522.3,511.54 522.8,511.65 523.3,511.78 523.8,511.92 524.3,512.08 524.8,512.26 525.3,512.46 525.8,512.68 526.3,512.91 526.8,513.16 527.3,513.42 527.8,513.70 528.3,514.00 528.8,514.31 529.3,514.64 529.8,514.97 530.3,515.32 530.8,515.69 531.3,516.06 531.8,516.45 532.3,516.84 532.8,517.24 533.3,517.66 533.8,518.08 534.3,518.50 534.8,518.94 535.3,519.38 535.8,519.82 536.3,520.26 536.8,520.71 537.3,521.17 537.8,521.62 538.3,522.07 538.8,522.52 539.3,522.98 539.8,523.42 540.3,523.87 540.8,524.31 541.3,524.75 541.8,525.18 542.3,525.61 542.8,526.03 543.3,526.44 543.8,526.84 544.3,527.23 544.8,527.61 545.3,527.99 545.8,528.35 546.3,528.69 546.8,529.03 547.3,529.35 547.8,529.66 548.3,529.95 548.8,530.23 549.3,530.49 549.8,530.74 550.3,530.97 550.8,531.18 551.3,531.37 551.8,531.55 552.3,531.71 552.8,531.85 553.3,531.97 553.8,532.08 554.3,532.16 554.8,532.22 555.3,532.27 555.8,532.29 556.2,532.30 556.7,532.29 557.2,532.26 557.7,532.21 558.2,532.14 558.7,532.04 559.2,531.93 559.7,531.80 560.2,531.65 560.7,531.48 561.2,531.28 561.7,531.08 562.2,530.85 562.7,530.60 563.2,530.34 563.7,530.06 564.2,529.76 564.7,529.45 565.2,529.12 565.7,528.78 566.2,528.42 566.7,528.05 567.2,527.66 567.7,527.26 568.2,526.86 568.7,526.44 569.2,526.01 569.7,525.57 570.2,525.12 570.7,524.67 571.2,524.21 571.7,523.74 572.2,523.26 572.7,522.79 573.2,522.31 573.7,521.82 574.2,521.34 574.7,520.85 575.2,520.36 575.7,519.88 576.2,519.39 576.7,518.91 577.2,518.43 577.7,517.96 578.2,517.49 578.7,517.02 579.2,516.57 579.7,516.12 580.2,515.68 580.7,515.25 581.2,514.83 581.7,514.42 582.2,514.02 582.7,513.63 583.2,513.26 583.7,512.90 584.2,512.55 584.7,512.22 585.2,511.90 585.7,511.60 586.2,511.32 586.7,511.05 587.2,510.80 587.7,510.57 588.2,510.36 588.7,510.16 589.2,509.99 589.7,509.83 590.2,509.69 590.7,509.58 591.2,509.48 591.7,509.41 592.2,509.35 592.7,509.31 593.2,509.30 593.3,509.30 593.8,509.31 594.3,509.34 594.8,509.39 595.3,509.45 595.8,509.54 596.3,509.64 596.8,509.77 597.3,509.91 597.8,510.07 598.3,510.25 598.8,510.44 599.3,510.66 599.8,510.89 600.3,511.13 600.8,511.40 601.3,511.68 601.8,511.97 602.3,512.28 602.8,512.60 603.3,512.94 603.8,513.29 604.3,513.65 604.8,514.03 605.3,514.41 605.8,514.81 606.3,515.21 606.8,515.63 607.3,516.05 607.8,516.49 608.3,516.93 608.8,517.37 609.3,517.82 609.8,518.28 610.3,518.74 610.8,519.21 611.3,519.67 611.8,520.14 612.3,520.61 612.8,521.08 613.3,521.55 613.8,522.02 614.3,522.49 614.8,522.95 615.3,523.41 615.8,523.87 616.3,524.32 616.8,524.76 617.3,525.20 617.8,525.63 618.3,526.05 618.8,526.47 619.3,526.87 619.8,527.27 620.3,527.65 620.8,528.02 621.3,528.38 621.8,528.73 622.3,529.06 622.8,529.38 623.3,529.69 623.8,529.98 624.3,530.26 624.8,530.52 625.3,530.76 625.8,530.99 626.3,531.20 626.8,531.39 627.3,531.56 627.8,531.72 628.3,531.86 628.8,531.98 629.3,532.08 629.8,532.16 630.3,532.22 630.8,532.27 631.3,532.29 631.7,532.30 632.2,532.29 632.7,532.26 633.2,532.21 633.7,532.14 634.2,532.06 634.7,531.95 635.2,531.82 635.7,531.68 636.2,531.51 636.7,531.33 637.2,531.13 637.7,530.91 638.2,530.68 638.7,530.43 639.2,530.16 639.7,529.87 640.2,529.57 640.7,529.25 641.2,528.92 641.7,528.57 642.2,528.21 642.7,527.84 643.2,527.45 643.7,527.05 644.2,526.64 644.7,526.22 645.2,525.78 645.7,525.34 646.2,524.89 646.7,524.43 647.2,523.96 647.7,523.48 648.2,523.00 648.7,522.51 649.2,522.02 649.7,521.52 650.2,521.02 650.7,520.52 651.2,520.01 651.7,519.51 652.2,519.00 652.7,518.49 653.2,517.98 653.7,517.48 654.2,516.98 654.7,516.48 655.2,515.98 655.7,515.49 656.2,515.01 656.7,514.53 657.2,514.06 657.7,513.60 658.2,513.14 658.7,512.69 659.2,512.26 659.7,511.83 660.2,511.41 660.7,511.01 661.2,510.62 661.7,510.24 662.2,509.87 662.7,509.52 663.2,509.18 663.7,508.86 664.2,508.55 664.7,508.26 665.2,507.98 665.7,507.72 666.2,507.48 666.7,507.25 667.2,507.05 667.7,506.86 668.2,506.69 668.7,506.53 669.2,506.40 669.7,506.28 670.2,506.19 670.7,506.11 671.2,506.06 671.7,506.02 672.2,506.00 672.4,506.00 672.9,506.01 673.4,506.04 673.9,506.08 674.4,506.15 674.9,506.23 675.4,506.33 675.9,506.45 676.4,506.59 676.9,506.74 677.4,506.92 677.9,507.11 678.4,507.31 678.9,507.54 679.4,507.78 679.9,508.03 680.4,508.31 680.9,508.59 681.4,508.90 681.9,509.21 682.4,509.54 682.9,509.89 683.4,510.24 683.9,510.61 684.4,511.00 684.9,511.39 685.4,511.79 685.9,512.21 686.4,512.63 686.9,513.07 687.4,513.51 687.9,513.96 688.4,514.42 688.9,514.88 689.4,515.35 689.9,515.83 690.4,516.31 690.9,516.79 691.4,517.28 691.9,517.77 692.4,518.26 692.9,518.75 693.4,519.25 693.9,519.74 694.4,520.24 694.9,520.73 695.4,521.22 695.9,521.70 696.4,522.19 696.9,522.66 697.4,523.14 697.9,523.61 698.4,524.07 698.9,524.52 699.4,524.97 699.9,525.41 700.4,525.84 700.9,526.26 701.4,526.67 701.9,527.07 702.4,527.46 702.9,527.84 703.4,528.20 703.9,528.55 704.4,528.89 704.9,529.22 705.4,529.53 705.9,529.82 706.4,530.10 706.9,530.37 707.4,530.62 707.9,530.85 708.4,531.07 708.9,531.27 709.4,531.45 709.9,531.62 710.4,531.77 710.9,531.90 711.4,532.01 711.9,532.10 712.4,532.18 712.9,532.24 713.4,532.28 713.9,532.30 714.2,532.30 714.7,532.29 715.2,532.26 715.7,532.21 716.2,532.13 716.7,532.04 717.2,531.93 717.7,531.79 718.2,531.64 718.7,531.47 719.2,531.27 719.7,531.06 720.2,530.83 720.7,530.58 721.2,530.31 721.7,530.02 722.2,529.72 722.7,529.40 723.2,529.06 723.7,528.70 724.2,528.33 724.7,527.94 725.2,527.54 725.7,527.12 726.2,526.69 726.7,526.25 727.2,525.79 727.7,525.32 728.2,524.84 728.7,524.35 729.2,523.85 729.7,523.34 730.2,522.81 730.7,522.29 731.2,521.75 731.7,521.20 732.2,520.65 732.7,520.10 733.2,519.54 733.7,518.97 734.2,518.40 734.7,517.83 735.2,517.26 735.7,516.69 736.2,516.11 736.7,515.54 737.2,514.97 737.7,514.40 738.2,513.83 738.7,513.26 739.2,512.70 739.7,512.15 740.2,511.60 740.7,511.05 741.2,510.51 741.7,509.99 742.2,509.46 742.7,508.95 743.2,508.45 743.7,507.96 744.2,507.48 744.7,507.01 745.2,506.55 745.7,506.11 746.2,505.68 746.7,505.26 747.2,504.86 747.7,504.47 748.2,504.10 748.7,503.74 749.2,503.40 749.7,503.08 750.2,502.78 750.7,502.49 751.2,502.22 751.7,501.97 752.2,501.74 752.7,501.53 753.2,501.33 753.7,501.16 754.2,501.01 754.7,500.87 755.2,500.76 755.7,500.67 756.2,500.59 756.7,500.54 757.2,500.51 757.7,500.50 758.2,500.51 758.7,500.54 759.2,500.58 759.7,500.65 760.2,500.73 760.7,500.83 761.2,500.95 761.7,501.09 762.2,501.24 762.7,501.42 763.2,501.61 763.7,501.82 764.2,502.04 764.7,502.28 765.2,502.54 765.7,502.81 766.2,503.10 766.7,503.41 767.2,503.73 767.7,504.07 768.2,504.42 768.7,504.78 769.2,505.16 769.7,505.55 770.2,505.95 770.7,506.37 771.2,506.79 771.7,507.23 772.2,507.68 772.7,508.14 773.2,508.61 773.7,509.08 774.2,509.57 774.7,510.07 775.2,510.57 775.7,511.08 776.2,511.59 776.7,512.11 777.2,512.64 777.7,513.17 778.2,513.70 778.7,514.23 779.2,514.77 779.7,515.31 780.2,515.86 780.7,516.40 781.2,516.94 781.7,517.49 782.2,518.03 782.7,518.57 783.2,519.10 783.7,519.63 784.2,520.16 784.7,520.69 785.2,521.21 785.7,521.72 786.2,522.23 786.7,522.73 787.2,523.23 787.7,523.72 788.2,524.19 788.7,524.66 789.2,525.12 789.7,525.57 790.2,526.01 790.7,526.43 791.2,526.85 791.7,527.25 792.2,527.64 792.7,528.02 793.2,528.38 793.7,528.73 794.2,529.07 794.7,529.39 795.2,529.70 795.7,529.99 796.2,530.26 796.7,530.52 797.2,530.76 797.7,530.98 798.2,531.19 798.7,531.38 799.2,531.56 799.7,531.71 800.2,531.85 800.7,531.97 801.2,532.07 801.7,532.15 802.2,532.22 802.7,532.26 803.2,532.29 803.7,532.30 804.2,532.29 804.7,532.26 805.2,532.21 805.7,532.14 806.2,532.06 806.7,531.95 807.2,531.83 807.7,531.68 808.2,531.52 808.7,531.34 809.2,531.14 809.7,530.92 810.2,530.68 810.7,530.43 811.2,530.16 811.7,529.87 812.2,529.56 812.7,529.24 813.2,528.90 813.7,528.55 814.2,528.18 814.7,527.80 815.2,527.40 815.7,526.98 816.2,526.56 816.7,526.12 817.2,525.67 817.7,525.20 818.2,524.73 818.7,524.24 819.2,523.74 819.7,523.24 820.2,522.72 820.7,522.19 821.2,521.66 821.7,521.12 822.2,520.57 822.7,520.01 823.2,519.45 823.7,518.89 824.2,518.32 824.7,517.74 825.2,517.16 825.7,516.58 826.2,516.00 826.7,515.41 827.2,514.83 827.7,514.24 828.2,513.65 828.7,513.07 829.2,512.49 829.7,511.91 830.2,511.33 830.7,510.76 831.2,510.19 831.7,509.62" fill="none" stroke="#fdb246" stroke-width="2.5" stroke-linejoin="round"/>
<path d="M57.50,10.00 C57.87,15.00 58.88,28.67 59.70,40.00 C60.52,51.33 61.53,67.00 62.40,78.00 C63.27,89.00 64.00,96.97 64.90,106.00 C65.80,115.03 66.88,124.87 67.80,132.20 C68.72,139.53 69.53,144.37 70.40,150.00 C71.27,155.63 72.12,160.83 73.00,166.00 C73.88,171.17 74.57,175.33 75.70,181.00 C76.83,186.67 78.30,194.18 79.80,200.00 C81.30,205.82 83.13,211.15 84.70,215.90 C86.27,220.65 87.73,224.98 89.20,228.50 C90.67,232.02 92.10,234.78 93.50,237.00 C94.90,239.22 96.12,240.67 97.60,241.80 C99.08,242.93 100.70,243.60 102.40,243.80 C104.10,244.00 106.10,243.67 107.80,243.00 C109.50,242.33 110.82,241.30 112.60,239.80 C114.38,238.30 116.40,236.13 118.50,234.00 C120.60,231.87 121.98,230.80 125.20,227.00 C128.42,223.20 133.58,216.33 137.80,211.20 C142.02,206.07 146.28,200.87 150.50,196.20 C154.72,191.53 158.90,187.10 163.10,183.20 C167.30,179.30 171.50,175.92 175.70,172.80 C179.90,169.68 184.10,166.93 188.30,164.50 C192.50,162.07 196.70,160.13 200.90,158.20 C205.10,156.27 209.30,154.48 213.50,152.90 C217.70,151.32 221.90,149.98 226.10,148.70 C230.30,147.42 234.48,146.28 238.70,145.20 C242.92,144.12 245.08,143.40 251.40,142.20 C257.72,141.00 268.20,139.22 276.60,138.00 C285.00,136.78 294.57,135.70 301.80,134.90 C309.03,134.10 311.97,133.80 320.00,133.20 C328.03,132.60 336.67,131.90 350.00,131.30 C363.33,130.70 381.67,130.12 400.00,129.60 C418.33,129.08 440.00,128.60 460.00,128.20 C480.00,127.80 496.67,127.53 520.00,127.20 C543.33,126.87 570.00,126.45 600.00,126.20 C630.00,125.95 661.33,125.82 700.00,125.70 C738.67,125.58 810.00,125.53 832.00,125.50" fill="none" stroke="#000ef8" stroke-opacity="0.6" stroke-width="4.4"/>
<path d="M59.40,433.30 C59.83,437.37 60.92,450.02 62.00,457.70 C63.08,465.38 64.52,472.15 65.90,479.40 C67.28,486.65 68.52,494.30 70.30,501.20 C72.08,508.10 74.48,515.37 76.60,520.80 C78.72,526.23 80.53,530.00 83.00,533.80 C85.47,537.60 89.07,541.47 91.40,543.60 C93.73,545.73 95.20,545.93 97.00,546.60 C98.80,547.27 100.37,547.45 102.20,547.60 C104.03,547.75 105.82,547.68 108.00,547.50 C110.18,547.32 110.45,547.35 115.30,546.50 C120.15,545.65 129.85,543.57 137.10,542.40 C144.35,541.23 151.55,540.23 158.80,539.50 C166.05,538.77 172.07,538.37 180.60,538.00 C189.13,537.63 198.43,537.45 210.00,537.30 C221.57,537.15 218.33,537.13 250.00,537.10 C281.67,537.07 303.00,537.10 400.00,537.10 C497.00,537.10 760.00,537.10 832.00,537.10" fill="none" stroke="#000ef8" stroke-opacity="0.6" stroke-width="4.3"/>
</g>
<rect x="177.2" y="202.2" width="408.3" height="204.2" fill="#fff"/>
<rect x="177.2" y="322.4" width="408.3" height="34.3" fill="#feedda"/>
<g clip-path="url(#ci)">
<path d="M362.00,419.00 C363.68,416.90 368.87,410.03 372.10,406.40 C375.33,402.77 377.48,400.57 381.40,397.20 C385.32,393.83 390.87,389.55 395.60,386.20 C400.33,382.85 405.05,379.77 409.80,377.10 C414.55,374.43 419.35,372.33 424.10,370.20 C428.85,368.07 433.57,366.08 438.30,364.30 C443.03,362.52 447.75,360.92 452.50,359.50 C457.25,358.08 462.22,356.98 466.80,355.80 C471.38,354.62 474.47,353.68 480.00,352.40 C485.53,351.12 492.47,349.60 500.00,348.10 C507.53,346.60 516.03,344.82 525.20,343.40 C534.37,341.98 544.92,340.77 555.00,339.60 C565.08,338.43 578.20,337.15 585.70,336.40 C593.20,335.65 597.62,335.32 600.00,335.10" fill="none" stroke="#1a1ae6" stroke-width="4.2"/>
<path d="M179.60,418.00 C179.75,415.95 179.75,415.67 180.50,405.70 C181.25,395.73 182.92,372.08 184.10,358.20 C185.28,344.32 186.32,334.12 187.60,322.40 C188.88,310.68 190.17,299.52 191.80,287.90 C193.43,276.28 195.87,261.18 197.40,252.70 C198.93,244.22 199.70,241.68 201.00,237.00 C202.30,232.32 203.70,227.93 205.20,224.60 C206.70,221.27 208.42,218.63 210.00,217.00 C211.58,215.37 213.07,214.75 214.70,214.80 C216.33,214.85 217.95,215.67 219.80,217.30 C221.65,218.93 223.73,221.23 225.80,224.60 C227.87,227.97 229.97,232.82 232.20,237.50 C234.43,242.18 235.47,244.30 239.20,252.70 C242.93,261.10 249.43,276.28 254.60,287.90 C259.77,299.52 266.47,314.85 270.20,322.40 C273.93,329.95 274.63,329.87 277.00,333.20 C279.37,336.53 280.77,338.98 284.40,342.40 C288.03,345.82 293.95,350.95 298.80,353.70 C303.65,356.45 308.97,357.78 313.50,358.90 C318.03,360.02 321.58,360.30 326.00,360.40 C330.42,360.50 335.17,360.00 340.00,359.50 C344.83,359.00 350.00,358.28 355.00,357.40 C360.00,356.52 364.42,355.45 370.00,354.20 C375.58,352.95 380.68,351.42 388.50,349.90 C396.32,348.38 407.42,346.47 416.90,345.10 C426.38,343.73 434.88,342.73 445.40,341.70 C455.92,340.67 470.90,339.53 480.00,338.90 C489.10,338.27 492.50,338.35 500.00,337.90 C507.50,337.45 515.83,336.78 525.00,336.20 C534.17,335.62 544.88,334.97 555.00,334.40 C565.12,333.83 578.20,333.17 585.70,332.80 C593.20,332.43 597.62,332.30 600.00,332.20" fill="none" stroke="url(#gcy)" stroke-opacity="0.93" stroke-width="4.7"/>
</g>
<path d="M177.2,322.4 H585.5" stroke="#5a5a5a" stroke-width="0.9" fill="none"/>
<rect x="177.2" y="202.2" width="408.3" height="204.2" fill="none" stroke="#8c8c8c" stroke-width="1"/>
<path d="M242.4,528.4 H600.6" stroke="#2a2a2a" stroke-width="0.8" fill="none" stroke-dasharray="6.1 5.5" stroke-dashoffset="6.8"/>
<path d="M242.4,546.2 H600" stroke="#2a2a2a" stroke-width="0.8" fill="none" stroke-dasharray="6.1 5.5" stroke-dashoffset="8.2"/>
<path d="M242.4,528.4 V546.2" stroke="#2a2a2a" stroke-width="0.8" fill="none" stroke-dasharray="6.1 5.5"/>
<path d="M600.4,528.4 V546.2" stroke="#2a2a2a" stroke-width="0.8" fill="none" stroke-dasharray="6.1 5.5"/>
<path d="M426.1,136.2 H440.6 V272.4 L449.9,267.9 L433.3,330.3 L416.4,267.9 L426.1,272.4 Z" fill="#58f53a" fill-opacity="0.5"/>
<path d="M591.7,536.8 V194.7 Q600.2,193.9 608.8,194.7 V536.8 Z" fill="#ff0000" fill-opacity="0.5"/>
<path d="M591.7,195.2 L584,198.9 L600.4,137.6 L617.4,198.9 L608.8,195.2 Q600.2,194.3 591.7,195.2 Z" fill="#ff0000" fill-opacity="0.5"/>
<path d="M175.6,403.4 L244.1,546.2" stroke="#000" stroke-width="3.4" stroke-dasharray="6 5.7" fill="none"/>
<path d="M585,403.6 L599.7,546.4" stroke="#000" stroke-width="3.4" stroke-dasharray="6 5.7" stroke-dashoffset="3" fill="none"/>
<path d="M596.4,136.2 H679.4" stroke="#000" stroke-width="1.7" fill="none"/>
<path d="M655,82.2 V105" stroke="#000" stroke-width="1.4" fill="none"/>
<path d="M655,123.8 L648.9,100.2 L655,104 L661.1,100.2 Z" fill="#000"/>
<path d="M655,181.5 V156" stroke="#000" stroke-width="1.4" fill="none"/>
<path d="M655,137 L648.9,160.6 L655,156.8 L661.1,160.6 Z" fill="#000"/>
<rect x="41.5" y="41.5" width="789.1" height="511.70000000000005" fill="none" stroke="#8a8a8a" stroke-width="0.8"/>
<path d="M696.5,455.3 L723.2,366.5" stroke="#bcbcff" stroke-width="5.6" fill="none"/>
<circle cx="723.2" cy="366.5" r="18.9" fill="url(#gb)"/>
<circle cx="696.5" cy="455.3" r="15" fill="url(#go)"/>
<path d="M778.1,455.3 L804.8,366.5" stroke="#bcbcff" stroke-width="5.6" fill="none"/>
<circle cx="804.8" cy="366.5" r="18.9" fill="url(#gb)"/>
<circle cx="778.1" cy="455.3" r="15" fill="url(#go)"/>
<path d="M683.6,421.7 H812.4" stroke="#000" stroke-width="1.3" fill="none"/>
<path d="M705.7,421.7 H768" stroke="#000" stroke-width="3.1" fill="none"/>
<path d="M785.6,421.7 L758.2,413.2 L766.6,421.7 L758.2,430.2 Z" fill="#000"/>
<circle cx="705.7" cy="421.7" r="4.8" fill="#000"/>
<path d="M732.70,421.7 A27,27 0 0 0 713.46,395.84" stroke="#000" stroke-width="1" fill="none"/>
<circle cx="787.3" cy="421.7" r="4.8" fill="#000"/>
<path d="M814.30,421.7 A27,27 0 0 0 795.06,395.84" stroke="#000" stroke-width="1" fill="none"/>
<text x="80.7" y="73.9" font-family="Liberation Sans, sans-serif" font-size="23.6" fill="#0a14ff">excited</text>
<text x="80.9" y="453.7" font-family="Liberation Sans, sans-serif" font-size="23.6" fill="#0a14ff">ground</text>
<text x="244.7" y="234.6" font-family="Liberation Sans, sans-serif" font-size="23.6" fill="#0aaaf2"><tspan font-style="italic">θ</tspan>=0°</text>
<text x="457.7" y="384.4" font-family="Liberation Sans, sans-serif" font-size="23.8" fill="#1428ff"><tspan font-style="italic">θ</tspan>=45°</text>
<text x="675.6" y="107.9" font-family="Liberation Sans, sans-serif" font-size="24.2" fill="#000">Δ</text>
<text x="672.4" y="374.4" font-family="Liberation Sans, sans-serif" font-size="30.5" font-weight="bold" fill="#000">X</text>
<text x="659.2" y="488.9" font-family="Liberation Sans, sans-serif" font-size="30.5" font-weight="bold" fill="#000">Y</text>
<text x="725.5" y="404.4" font-family="Liberation Sans, sans-serif" font-size="22.6" font-style="italic" fill="#000">θ</text>
<text x="807.8" y="404.4" font-family="Liberation Sans, sans-serif" font-size="22.6" font-style="italic" fill="#000">θ</text>
<text x="727.2" y="456" font-family="Liberation Serif, serif" font-size="30.5" fill="#000">R</text>
<text x="156.8" y="332.5" font-family="Liberation Serif, serif" font-size="30.5" textLength="16.6" lengthAdjust="spacingAndGlyphs" fill="#000">0</text>
<text x="135.2" y="377.9" font-family="Liberation Serif, serif" font-size="30.5" textLength="20.4" lengthAdjust="spacingAndGlyphs" fill="#000">E</text>
<text x="155.2" y="382.1" font-family="Liberation Sans, sans-serif" font-size="19" fill="#111">b'</text>
<text transform="translate(26.4,343.5) rotate(-90)" font-family="Liberation Serif, serif" font-size="30.8" textLength="92" lengthAdjust="spacingAndGlyphs" fill="#000">Energy</text>
<text x="266.6" y="588" font-family="Liberation Serif, serif" font-size="30.8" textLength="341.6" lengthAdjust="spacingAndGlyphs" fill="#000">Intermolecular distance <tspan font-style="italic">R</tspan></text>
<rect x="276.4" y="99.6" width="1.80" height="20.30" fill="#f99a1e"/>
<text x="281.3" y="115.9" font-family="Liberation Sans, sans-serif" font-size="24.6" font-style="italic" fill="#f99a1e" >ψ</text>
<text x="297.6" y="118.8" font-family="Liberation Serif, serif" font-size="18.2" font-style="italic" fill="#f99a1e" >b</text>
<text x="306.4" y="115.9" font-family="Liberation Serif, serif" font-size="24" fill="#f99a1e" textLength="29.8" lengthAdjust="spacingAndGlyphs">(R)</text>
<rect x="341.3" y="99.6" width="1.80" height="20.30" fill="#f99a1e"/>
<text x="348.6" y="105.8" font-family="Liberation Serif, serif" font-size="17.5" fill="#f99a1e" >2</text>
<rect x="257.6" y="487.8" width="1.80" height="20.20" fill="#f99a1e"/>
<text x="262.2" y="502.9" font-family="Liberation Sans, sans-serif" font-size="24.6" font-style="italic" fill="#f99a1e" >ψ</text>
<text x="282" y="506.6" font-family="Liberation Serif, serif" font-size="17" fill="#f99a1e" textLength="24.9" lengthAdjust="spacingAndGlyphs">cont</text>
<text x="308.2" y="502.9" font-family="Liberation Serif, serif" font-size="24" fill="#f99a1e" >(R,</text>
<text x="337.4" y="502.9" font-family="Liberation Sans, sans-serif" font-size="23.5" font-style="italic" fill="#f99a1e" >ϵ</text>
<text x="346.6" y="502.9" font-family="Liberation Serif, serif" font-size="24" fill="#f99a1e" >)</text>
<rect x="360.3" y="487.8" width="1.80" height="20.20" fill="#f99a1e"/>
<text x="367.6" y="494.1" font-family="Liberation Serif, serif" font-size="17.5" fill="#f99a1e" >2</text>
<rect x="236.8" y="356.6" width="1.90" height="20.40" fill="#f5380f"/>
<text x="241.5" y="373" font-family="Liberation Sans, sans-serif" font-size="24.6" font-style="italic" fill="#f5380f" >ψ</text>
<text x="257.2" y="375.9" font-family="Liberation Serif, serif" font-size="18.2" font-style="italic" fill="#f5380f" >b'</text>
<rect x="274.6" y="356.6" width="1.90" height="20.40" fill="#f5380f"/>
<text x="282" y="363.2" font-family="Liberation Serif, serif" font-size="17.5" fill="#f5380f" >2</text>
<text transform="translate(639.9,405) rotate(-90) scale(1,1.07)" font-family="Liberation Serif, serif" font-size="23.6" fill="#f5101a">PA laser <tspan font-style="italic" dx="2.6">(ħ<tspan font-family="Liberation Sans, sans-serif" font-size="20.5">ω</tspan>, <tspan dx="-1.3">I</tspan><tspan dx="1.0">)</tspan></tspan></text>
</svg>
</body></html>
